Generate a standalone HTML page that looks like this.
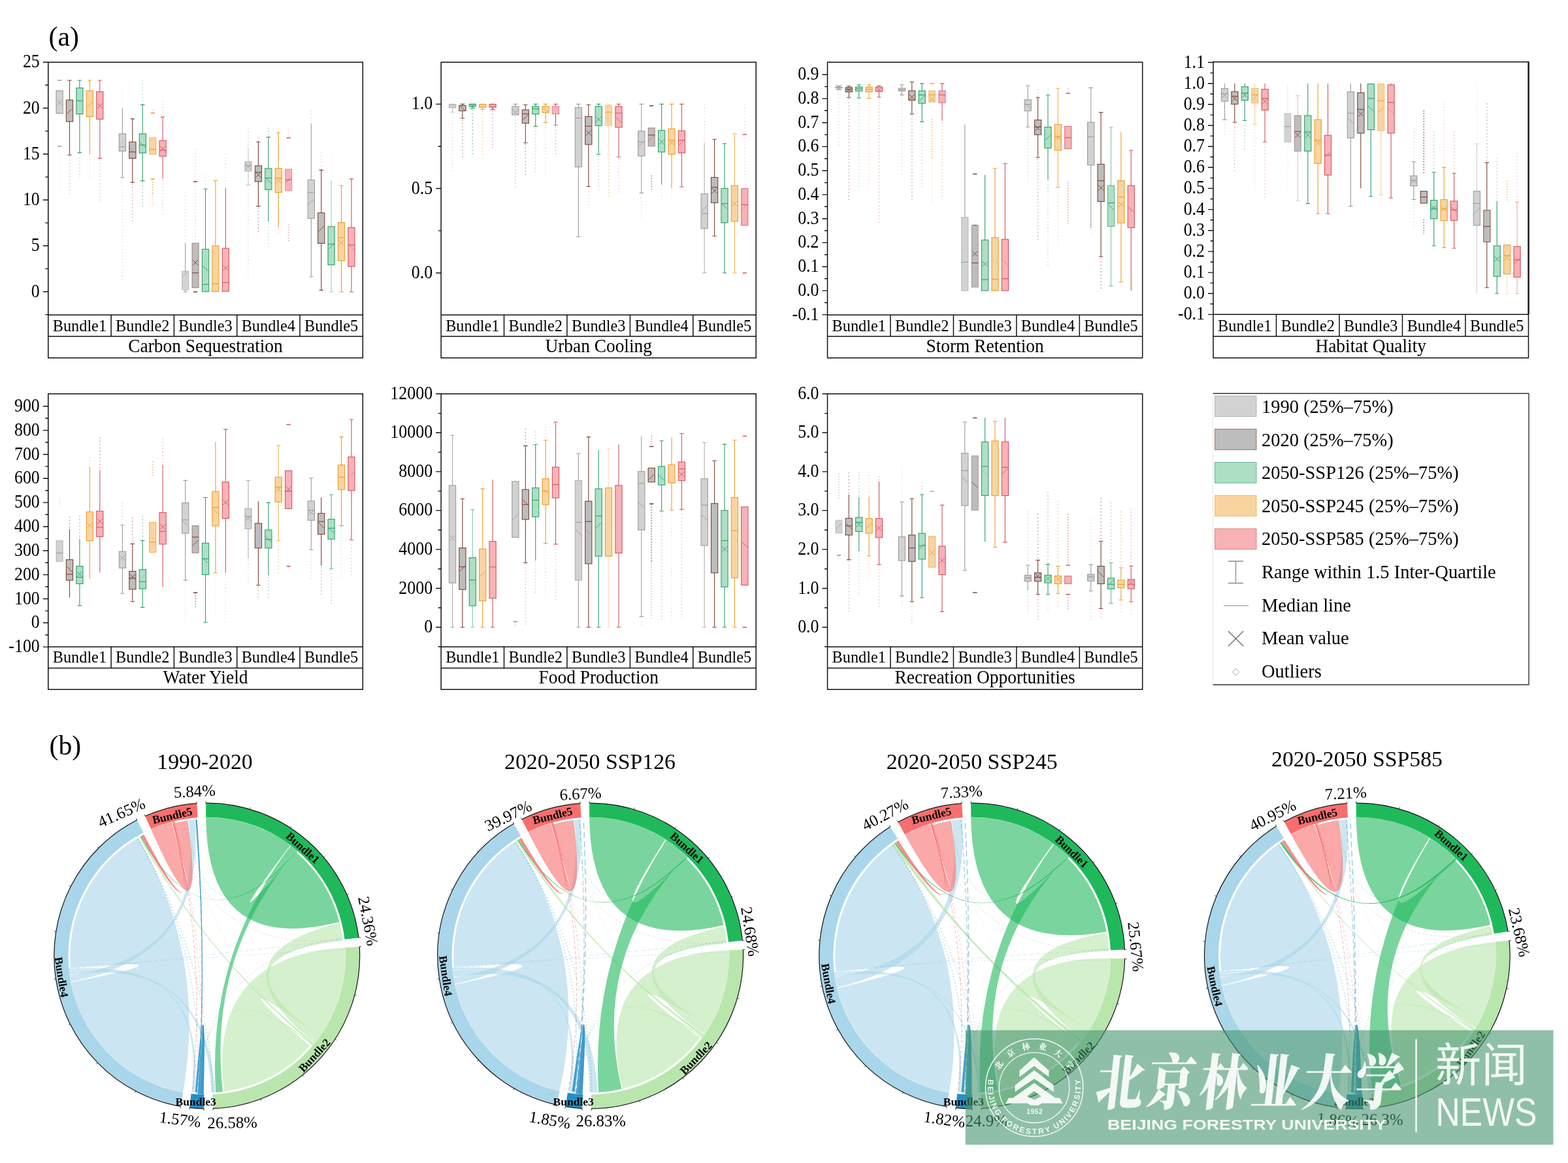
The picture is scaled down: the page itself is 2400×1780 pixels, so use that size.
<!DOCTYPE html>
<html lang="en"><head><meta charset="utf-8"><title>Figure</title>
<style>html,body{margin:0;padding:0;background:#fff}body{width:2400px;height:1780px;overflow:hidden}svg{display:block}text{font-family:'Liberation Serif','Noto Serif CJK SC',serif}</style></head>
<body>
<svg width="2400" height="1780" viewBox="0 0 2400 1780">
<rect width="2400" height="1780" fill="#fff"/>
<text x="74.5" y="69.5" font-size="41.8" text-anchor="start">(a)</text>
<g id="panel1">
<g stroke="#9c9c9c" stroke-width="1.1" fill="none"><path d="M91.1 225.7V290.1" stroke-dasharray="1.5 3.6" stroke-width="1.6" opacity="0.2"/><path d="M87.9 123H94.3" stroke-width="1.5"/><path d="M87.9 223.7H94.3" stroke-width="1.5"/><rect x="86" y="138.8" width="10.2" height="34.7" fill="#d2d2d2"/><path d="M87.1 161.1L95.1 153.1M87.1 153.1L95.1 161.1" stroke-width="0.9"/></g>
<g stroke="#7b4331" stroke-width="1.1" fill="none"><path d="M106.5 239.3V298.9" stroke-dasharray="1.5 3.6" stroke-width="1.6" opacity="0.3"/><path d="M106.5 123V153.1M103.3 123H109.7M106.5 186.1V237.3M103.3 237.3H109.7"/><rect x="101.4" y="153.1" width="10.2" height="33" fill="#bdbdbd"/><path d="M102.5 174.3L110.5 166.3" stroke-width="0.9"/></g>
<g stroke="#2f9e6e" stroke-width="1.1" fill="none"><path d="M121.9 235.6V274.7" stroke-dasharray="1.5 3.6" stroke-width="1.6" opacity="0.3"/><path d="M121.9 123V134.6M118.7 123H125.1M121.9 174.5V233.6M118.7 233.6H125.1"/><rect x="116.8" y="134.6" width="10.2" height="39.8" fill="#addfc4"/><path d="M116.8 154.2H127" stroke-width="1.1"/><path d="M117.9 152L125.9 160" stroke-width="0.9" opacity="0.3"/></g>
<g stroke="#eaa027" stroke-width="1.1" fill="none"><path d="M137.3 238.3V276.9" stroke-dasharray="1.5 3.6" stroke-width="1.6" opacity="0.3"/><path d="M137.3 123V139M134.2 123H140.5M137.3 178.6V236.3"/><rect x="132.2" y="139" width="10.2" height="39.6" fill="#f9d4a1"/><path d="M133.3 163.9L141.3 155.9" stroke-width="0.9"/></g>
<g stroke="#d25560" stroke-width="1.1" fill="none"><path d="M152.8 244.4V309.9" stroke-dasharray="1.5 3.6" stroke-width="1.6" opacity="0.3"/><path d="M152.8 123V140.4M149.6 123H155.9M152.8 182.4V242.4M149.6 242.4H155.9"/><rect x="147.7" y="140.4" width="10.2" height="42" fill="#f8b2b6"/><path d="M148.8 166.1L156.8 158.1M148.8 158.1L156.8 166.1" stroke-width="0.9"/></g>
<g stroke="#9c9c9c" stroke-width="1.1" fill="none"><path d="M187.4 138.4V165.4" stroke-dasharray="1.5 3.6" stroke-width="1.6" opacity="0.2"/><path d="M187.4 273.7V433.1" stroke-dasharray="1.5 3.6" stroke-width="1.6" opacity="0.3"/><path d="M187.4 165.4V204.8M187.4 231.2V271.7M184.2 271.7H190.6"/><rect x="182.3" y="204.8" width="10.2" height="26.4" fill="#d2d2d2"/><path d="M182.3 224.6H192.5" stroke-width="1.1"/><path d="M183.4 221.6L191.4 213.6" stroke-width="0.9" opacity="0.4"/></g>
<g stroke="#7b4331" stroke-width="1.1" fill="none"><path d="M202.8 281.1V338.5" stroke-dasharray="1.5 3.6" stroke-width="1.6" opacity="0.4"/><path d="M202.8 181.9V217.3M199.7 181.9H206M202.8 242.4V279.1M199.7 279.1H206"/><rect x="197.8" y="217.3" width="10.2" height="25.1" fill="#bdbdbd"/><path d="M197.8 232.5H207.9" stroke-width="1.1"/><path d="M198.8 226.8L206.8 234.8" stroke-width="0.9" opacity="0.3"/></g>
<g stroke="#2f9e6e" stroke-width="1.1" fill="none"><path d="M218.2 123V160.4" stroke-dasharray="1.5 3.6" stroke-width="1.6" opacity="0.3"/><path d="M218.2 278.9V316.5" stroke-dasharray="1.5 3.6" stroke-width="1.6" opacity="0.5"/><path d="M218.2 160.4V204.8M215.1 160.4H221.4M218.2 234.1V276.9M215.1 276.9H221.4"/><rect x="213.2" y="204.8" width="10.2" height="29.3" fill="#addfc4"/><path d="M213.2 222H223.3" stroke-width="1.1"/><path d="M214.2 217.5L222.2 225.5" stroke-width="0.9"/></g>
<g stroke="#eaa027" stroke-width="1.1" fill="none"><path d="M233.7 273.9V296.7" stroke-dasharray="1.5 2.6" stroke-width="1.7" opacity="0.8"/><path d="M233.7 296.7V316.5" stroke-dasharray="1.5 2.6" stroke-width="1.7" opacity="0.4"/><path d="M233.7 167.4V172.7" stroke-dasharray="1.5 2.6" stroke-width="1.7" opacity="0.5"/><path d="M230.5 173.1H236.8" stroke-width="1.5"/><path d="M230.5 273.9H236.8" stroke-width="1.5"/><rect x="228.6" y="210.7" width="10.2" height="25.5" fill="#f9d4a1" stroke-opacity="0.6"/><path d="M228.6 228.6H238.8" stroke-width="1.1"/></g>
<g stroke="#d25560" stroke-width="1.1" fill="none"><path d="M249.1 153.8V179.1" stroke-dasharray="1.5 3.6" stroke-width="1.6" opacity="0.3"/><path d="M249.1 275.6V331.9" stroke-dasharray="1.5 3.6" stroke-width="1.6" opacity="0.3"/><path d="M249.1 179.1V215.1M245.9 179.1H252.2M249.1 239.1V273.6"/><rect x="244" y="215.1" width="10.2" height="24" fill="#f8b2b6"/><path d="M244 229.9H254.2" stroke-width="1.1"/><path d="M245.1 231.7L253.1 223.7M245.1 223.7L253.1 231.7" stroke-width="0.9"/></g>
<g stroke="#9c9c9c" stroke-width="1.1" fill="none"><path d="M283.7 294.5V372.2" stroke-dasharray="1.5 3.6" stroke-width="1.6" opacity="0.3"/><path d="M283.7 372.2V415M283.7 443.6V446.7M280.5 446.7H286.9"/><rect x="278.6" y="415" width="10.2" height="28.6" fill="#d2d2d2" stroke-opacity="0.5"/><path d="M279.7 422.8L287.7 414.8" stroke-width="0.9"/></g>
<g stroke="#7b4331" stroke-width="1.1" fill="none"><path d="M299.1 228.6V372.2" stroke-dasharray="1.5 3.6" stroke-width="1.6" opacity="0.2"/><path d="M295.9 278H302.3" stroke-width="1.5"/><path d="M295.9 446.7H302.3" stroke-width="1.5"/><rect x="294" y="372.2" width="10.2" height="68.2" fill="#bdbdbd" stroke-opacity="0.5"/><path d="M294 417.7H304.2" stroke-width="1.1"/><path d="M295.1 405.9L303.1 397.9M295.1 397.9L303.1 405.9" stroke-width="0.9"/></g>
<g stroke="#2f9e6e" stroke-width="1.1" fill="none"><path d="M314.5 265.9V289.3" stroke-dasharray="1.5 3.6" stroke-width="1.6" opacity="0.2"/><path d="M314.5 289.3V381.4M311.3 289.3H317.7"/><rect x="309.4" y="381.4" width="10.2" height="64.9" fill="#addfc4"/><path d="M309.4 435.3H319.6" stroke-width="1.1"/><path d="M310.5 407.1L318.5 415.1" stroke-width="0.9"/></g>
<g stroke="#eaa027" stroke-width="1.1" fill="none"><path d="M329.9 265.9V276.5" stroke-dasharray="1.5 3.6" stroke-width="1.6" opacity="0.2"/><path d="M329.9 276.5V376.3M326.7 276.5H333.1"/><rect x="324.8" y="376.3" width="10.2" height="69.9" fill="#f9d4a1"/><path d="M324.8 434.2H335" stroke-width="1.1"/><path d="M325.9 406L333.9 414" stroke-width="0.9" opacity="0.4"/></g>
<g stroke="#d25560" stroke-width="1.1" fill="none"><path d="M345.3 235.2V287.9" stroke-dasharray="1.5 3.6" stroke-width="1.6" opacity="0.2"/><path d="M345.3 287.9V380.1"/><rect x="340.2" y="380.1" width="10.2" height="65.8" fill="#f8b2b6"/><path d="M340.2 432.6H350.4" stroke-width="1.1"/><path d="M341.3 414L349.3 406M341.3 406L349.3 414" stroke-width="0.9"/></g>
<g stroke="#9c9c9c" stroke-width="1.1" fill="none"><path d="M380 195.6V226.4" stroke-dasharray="1.5 3.6" stroke-width="1.6" opacity="0.4"/><path d="M380 285.1V426.5" stroke-dasharray="1.5 3.6" stroke-width="1.6" opacity="0.3"/><path d="M380 226.4V247.5M380 261.8V283.1M376.8 283.1H383.2" opacity="0.6"/><rect x="374.9" y="247.5" width="10.2" height="14.3" fill="#d2d2d2" stroke-opacity="0.7"/><path d="M374.9 253.8H385.1" stroke-width="1.1"/><path d="M376 258.5L384 250.5M376 250.5L384 258.5" stroke-width="0.9"/></g>
<g stroke="#7b4331" stroke-width="1.1" fill="none"><path d="M395.4 209.9V217.3" stroke-dasharray="1.5 3.6" stroke-width="1.6" opacity="0.4"/><path d="M395.4 317.6V356.1" stroke-dasharray="1.5 3.6" stroke-width="1.6" opacity="0.5"/><path d="M395.4 217.3V253.8M392.2 217.3H398.6M395.4 278V315.6M392.2 315.6H398.6"/><rect x="390.3" y="253.8" width="10.2" height="24.2" fill="#bdbdbd"/><path d="M390.3 263.7H400.6" stroke-width="1.1"/><path d="M391.4 271.7L399.4 263.7M391.4 263.7L399.4 271.7" stroke-width="0.9"/></g>
<g stroke="#2f9e6e" stroke-width="1.1" fill="none"><path d="M410.8 195.6V209.9" stroke-dasharray="1.5 3.6" stroke-width="1.6" opacity="0.4"/><path d="M410.8 341.6V378.1" stroke-dasharray="1.5 3.6" stroke-width="1.6" opacity="0.3"/><path d="M410.8 209.9V257.8M407.6 209.9H414M410.8 290.4V339.6"/><rect x="405.7" y="257.8" width="10.2" height="32.5" fill="#addfc4"/><path d="M405.7 272.5H415.9" stroke-width="1.1"/><path d="M406.8 272.5L414.8 280.5" stroke-width="0.9"/></g>
<g stroke="#eaa027" stroke-width="1.1" fill="none"><path d="M426.2 195.6V203.3" stroke-dasharray="1.5 3.6" stroke-width="1.6" opacity="0.3"/><path d="M426.2 350.4V359.4" stroke-dasharray="1.5 3.6" stroke-width="1.6" opacity="0.3"/><path d="M426.2 203.3V257.6M423 203.3H429.4M426.2 294.5V348.4"/><rect x="421.1" y="257.6" width="10.2" height="36.9" fill="#f9d4a1"/><path d="M421.1 272.5H431.3" stroke-width="1.1"/><path d="M422.2 280.5L430.2 272.5M422.2 272.5L430.2 280.5" stroke-width="0.9"/></g>
<g stroke="#d25560" stroke-width="1.1" fill="none"><path d="M441.6 342.9V371.5" stroke-dasharray="1.5 2.6" stroke-width="1.7" opacity="0.5"/><path d="M441.6 195.6V210.5" stroke-dasharray="1.5 2.6" stroke-width="1.7" opacity="0.3"/><path d="M438.4 211H444.8" stroke-width="1.5"/><rect x="436.5" y="258.9" width="10.2" height="32.8" fill="#f8b2b6" stroke-opacity="0.5"/><path d="M436.5 275.2H446.8" stroke-width="1.1"/><path d="M437.6 279.8L445.6 271.8" stroke-width="0.9"/></g>
<g stroke="#9c9c9c" stroke-width="1.1" fill="none"><path d="M476.3 169.2V189" stroke-dasharray="1.5 3.6" stroke-width="1.6" opacity="0.3"/><path d="M476.3 425.2V426.5" stroke-dasharray="1.5 3.6" stroke-width="1.6" opacity="0.4"/><path d="M476.3 189V275.4M476.3 334.3V423.2M473.1 423.2H479.5"/><rect x="471.2" y="275.4" width="10.2" height="58.9" fill="#d2d2d2"/><path d="M471.2 294.5H481.4" stroke-width="1.1"/><path d="M472.3 312.8L480.3 304.8" stroke-width="0.9"/></g>
<g stroke="#7b4331" stroke-width="1.1" fill="none"><path d="M491.7 233V260.4" stroke-dasharray="1.5 3.6" stroke-width="1.6" opacity="0.2"/><path d="M491.7 260.4V325.8M488.5 260.4H494.9M491.7 372.4V444.1M488.5 444.1H494.9"/><rect x="486.6" y="325.8" width="10.2" height="46.6" fill="#bdbdbd"/><path d="M487.7 354.2L495.7 346.2" stroke-width="0.9"/></g>
<g stroke="#2f9e6e" stroke-width="1.1" fill="none"><path d="M507.1 228.6V276.5" stroke-dasharray="1.5 3.6" stroke-width="1.6" opacity="0.1"/><path d="M507.1 276.5V346.9M507.1 405.4V446.7M503.9 446.7H510.3" opacity="0.5"/><rect x="502" y="346.9" width="10.2" height="58.5" fill="#addfc4"/><path d="M502 373.7H512.2" stroke-width="1.1"/><path d="M503.1 381L511.1 373" stroke-width="0.9"/></g>
<g stroke="#eaa027" stroke-width="1.1" fill="none"><path d="M522.5 284V340.7M519.3 284H525.8M522.5 399V446.7M519.3 446.7H525.8"/><rect x="517.4" y="340.7" width="10.2" height="58.3" fill="#f9d4a1"/><path d="M517.4 363.8H527.6" stroke-width="1.1"/><path d="M518.5 375.5L526.5 367.5M518.5 367.5L526.5 375.5" stroke-width="0.9"/></g>
<g stroke="#d25560" stroke-width="1.1" fill="none"><path d="M537.9 273.9V348.4M534.7 273.9H541.1M537.9 407.8V446.7M534.7 446.7H541.1"/><rect x="532.8" y="348.4" width="10.2" height="59.4" fill="#f8b2b6"/><path d="M532.8 375H543" stroke-width="1.1"/><path d="M533.9 374.1L541.9 382.1" stroke-width="0.9" opacity="0.5"/></g>
<g>
<path d="M73.8 95.2H555.3V547.7H73.8Z M73.8 481.9H555.3 M73.8 514.7H555.3" fill="none" stroke="#111" stroke-width="1.5"/>
<path d="M170.1 481.9V514.7M266.4 481.9V514.7M362.7 481.9V514.7M459 481.9V514.7" stroke="#111" stroke-width="1.5" fill="none"/>
<path d="M65.8 95.2H73.8M65.8 165.5H73.8M65.8 235.7H73.8M65.8 306H73.8M65.8 376.2H73.8M65.8 446.5H73.8M69.3 130.3H73.8M69.3 200.6H73.8M69.3 270.9H73.8M69.3 341.1H73.8M69.3 411.4H73.8M69.3 481.6H73.8" stroke="#111" stroke-width="1.4" fill="none"/>
<text transform="translate(60.8 103.2) scale(1 1.1)" font-size="25.9" text-anchor="end">25</text>
<text transform="translate(60.8 173.5) scale(1 1.1)" font-size="25.9" text-anchor="end">20</text>
<text transform="translate(60.8 243.7) scale(1 1.1)" font-size="25.9" text-anchor="end">15</text>
<text transform="translate(60.8 314) scale(1 1.1)" font-size="25.9" text-anchor="end">10</text>
<text transform="translate(60.8 384.2) scale(1 1.1)" font-size="25.9" text-anchor="end">5</text>
<text transform="translate(60.8 454.5) scale(1 1.1)" font-size="25.9" text-anchor="end">0</text>
<text transform="translate(121.9 506.7) scale(1 1.03)" font-size="24.3" text-anchor="middle">Bundle1</text>
<text transform="translate(218.2 506.7) scale(1 1.03)" font-size="24.3" text-anchor="middle">Bundle2</text>
<text transform="translate(314.5 506.7) scale(1 1.03)" font-size="24.3" text-anchor="middle">Bundle3</text>
<text transform="translate(410.8 506.7) scale(1 1.03)" font-size="24.3" text-anchor="middle">Bundle4</text>
<text transform="translate(507.1 506.7) scale(1 1.03)" font-size="24.3" text-anchor="middle">Bundle5</text>
<text transform="translate(314.5 538.5) scale(1 1.05)" font-size="27.4" text-anchor="middle">Carbon Sequestration</text>
</g>
</g>
<g id="panel2">
<g stroke="#9c9c9c" stroke-width="1.1" fill="none"><path d="M692.5 173.6V263.1" stroke-dasharray="1.5 3.6" stroke-width="1.6" opacity="0.3"/><path d="M692.5 159.4V160M689.3 159.4H695.7M692.5 164.8V171.6M689.3 171.6H695.7" opacity="0.6"/><rect x="687.4" y="160" width="10.2" height="4.8" fill="#d2d2d2" stroke-opacity="0.8"/></g>
<g stroke="#7b4331" stroke-width="1.1" fill="none"><path d="M707.9 183V244.3" stroke-dasharray="1.5 3.6" stroke-width="1.6" opacity="0.5"/><path d="M707.9 159.4V161.6M704.7 159.4H711.1M707.9 169.7V181M704.7 181H711.1"/><rect x="702.8" y="161.6" width="10.2" height="8.1" fill="#bdbdbd"/><path d="M703.9 161.6L711.9 169.6" stroke-width="0.9"/></g>
<g stroke="#2f9e6e" stroke-width="1.1" fill="none"><path d="M723.3 168.2V236.2" stroke-dasharray="1.5 3.6" stroke-width="1.6" opacity="0.6"/><path d="M723.3 159.4V159.7M720.1 159.4H726.5M723.3 162.9V166.2M720.1 166.2H726.5"/><rect x="718.2" y="159.7" width="10.2" height="3.2" fill="#addfc4"/><path d="M719.3 166.1L727.3 158.1M719.3 158.1L727.3 166.1" stroke-width="0.9"/></g>
<g stroke="#eaa027" stroke-width="1.1" fill="none"><path d="M738.7 169.5V241.6" stroke-dasharray="1.5 3.6" stroke-width="1.6" opacity="0.5"/><path d="M738.7 159.4V159.7M735.5 159.4H741.9M738.7 164.3V167.5M735.5 167.5H741.9"/><rect x="733.6" y="159.7" width="10.2" height="4.6" fill="#f9d4a1"/></g>
<g stroke="#d25560" stroke-width="1.1" fill="none"><path d="M754.1 169.5V230.8" stroke-dasharray="1.5 3.6" stroke-width="1.6" opacity="0.5"/><path d="M754.1 159.4V159.7M750.9 159.4H757.3M754.1 164V167.5M750.9 167.5H757.3"/><rect x="749" y="159.7" width="10.2" height="4.3" fill="#f8b2b6"/><path d="M750.1 169.6L758.1 161.6M750.1 161.6L758.1 169.6" stroke-width="0.9"/></g>
<g stroke="#9c9c9c" stroke-width="1.1" fill="none"><path d="M788.9 177.9V290.1" stroke-dasharray="1.5 3.6" stroke-width="1.6" opacity="0.5"/><path d="M788.9 159.4V162.9M785.7 159.4H792.1"/><rect x="783.8" y="162.9" width="10.2" height="12.9" fill="#d2d2d2"/><path d="M784.9 175.6L792.9 167.6M784.9 167.6L792.9 175.6" stroke-width="0.9"/></g>
<g stroke="#7b4331" stroke-width="1.1" fill="none"><path d="M804.3 220.7V268.5" stroke-dasharray="1.5 3.6" stroke-width="1.6" opacity="0.5"/><path d="M804.3 160.3V168.1M801.1 160.3H807.5M804.3 188.5V218.7M801.1 218.7H807.5"/><rect x="799.2" y="168.1" width="10.2" height="20.5" fill="#bdbdbd"/><path d="M799.2 174.3H809.4" stroke-width="1.1"/><path d="M800.3 183.6L808.3 175.6" stroke-width="0.9"/></g>
<g stroke="#2f9e6e" stroke-width="1.1" fill="none"><path d="M819.7 195.4V265.8" stroke-dasharray="1.5 3.6" stroke-width="1.6" opacity="0.3"/><path d="M819.7 159.4V162.9M816.5 159.4H822.9M819.7 174.5V193.4M816.5 193.4H822.9"/><rect x="814.6" y="162.9" width="10.2" height="11.6" fill="#addfc4"/><path d="M814.6 166.7H824.8" stroke-width="1.1"/></g>
<g stroke="#eaa027" stroke-width="1.1" fill="none"><path d="M835.1 189.7V268.5" stroke-dasharray="1.5 3.6" stroke-width="1.6" opacity="0.3"/><path d="M835.1 159.4V162.9M831.9 159.4H838.3M835.1 172.4V187.7M831.9 187.7H838.3"/><rect x="830" y="162.9" width="10.2" height="9.4" fill="#f9d4a1"/><path d="M831.1 163.5L839.1 171.5" stroke-width="0.9"/></g>
<g stroke="#d25560" stroke-width="1.1" fill="none"><path d="M850.5 193.8V236.2" stroke-dasharray="1.5 3.6" stroke-width="1.6" opacity="0.5"/><path d="M850.5 159.4V162.9M847.3 159.4H853.7M850.5 174.5V191.8M847.3 191.8H853.7"/><rect x="845.4" y="162.9" width="10.2" height="11.6" fill="#f8b2b6" stroke-opacity="0.6"/></g>
<g stroke="#9c9c9c" stroke-width="1.1" fill="none"><path d="M885.4 159.4V164.6M882.2 159.4H888.6M885.4 255.3V362.2M882.2 362.2H888.6"/><rect x="880.3" y="164.6" width="10.2" height="90.8" fill="#d2d2d2"/><path d="M880.3 180.7H890.5" stroke-width="1.1"/><path d="M881.4 213.3L889.4 221.3" stroke-width="0.9" opacity="0.2"/></g>
<g stroke="#7b4331" stroke-width="1.1" fill="none"><path d="M900.8 287.5V317" stroke-dasharray="1.5 3.6" stroke-width="1.6" opacity="0.2"/><path d="M900.8 160.3V178.3M897.6 160.3H904M900.8 221.1V285.5M897.6 285.5H904"/><rect x="895.7" y="178.3" width="10.2" height="42.8" fill="#bdbdbd"/><path d="M895.7 193.1H905.9" stroke-width="1.1"/><path d="M896.8 207.3L904.8 199.3M896.8 199.3L904.8 207.3" stroke-width="0.9"/></g>
<g stroke="#2f9e6e" stroke-width="1.1" fill="none"><path d="M916.2 238.2V290.1" stroke-dasharray="1.5 3.6" stroke-width="1.6" opacity="0.3"/><path d="M916.2 159.4V162.9M913 159.4H919.4M916.2 192.3V236.2M913 236.2H919.4"/><rect x="911.1" y="162.9" width="10.2" height="29.4" fill="#addfc4"/><path d="M912.2 186.6L920.2 178.6M912.2 178.6L920.2 186.6" stroke-width="0.9"/></g>
<g stroke="#eaa027" stroke-width="1.1" fill="none"><path d="M931.6 238.2V302.2" stroke-dasharray="1.5 3.6" stroke-width="1.6" opacity="0.5"/><path d="M931.6 159.4V160.8M928.4 159.4H934.8M931.6 192.3V236.2M928.4 236.2H934.8" opacity="0.3"/><rect x="926.5" y="160.8" width="10.2" height="31.5" fill="#f9d4a1" stroke-opacity="0.3"/><path d="M926.5 171.8H936.7" stroke-width="1.1"/></g>
<g stroke="#d25560" stroke-width="1.1" fill="none"><path d="M947 242.2V295.4" stroke-dasharray="1.5 3.6" stroke-width="1.6" opacity="0.3"/><path d="M947 159.4V162.9M943.8 159.4H950.2M947 195V240.2M943.8 240.2H950.2"/><rect x="941.9" y="162.9" width="10.2" height="32" fill="#f8b2b6"/><path d="M941.9 173.2H952.1" stroke-width="1.1"/><path d="M943 179.7L951 187.7" stroke-width="0.9"/></g>
<g stroke="#9c9c9c" stroke-width="1.1" fill="none"><path d="M981.8 297.4V338.5" stroke-dasharray="1.5 3.6" stroke-width="1.6" opacity="0.3"/><path d="M981.8 159.4V200.6M978.6 159.4H985M981.8 238.9V295.4M978.6 295.4H985"/><rect x="976.7" y="200.6" width="10.2" height="38.2" fill="#d2d2d2"/><path d="M976.7 217.3H986.9" stroke-width="1.1"/><path d="M977.8 224L985.8 216" stroke-width="0.9"/></g>
<g stroke="#7b4331" stroke-width="1.1" fill="none"><path d="M997.2 268.5V290.1" stroke-dasharray="1.5 2.6" stroke-width="1.7" opacity="0.6"/><path d="M994 161.9H1000.4" stroke-width="1.5"/><rect x="992.1" y="195.8" width="10.2" height="28" fill="#bdbdbd" stroke-opacity="0.5"/><path d="M992.1 206.6H1002.3" stroke-width="1.1"/><path d="M993.2 215.4L1001.2 207.4" stroke-width="0.9" opacity="0.5"/></g>
<g stroke="#2f9e6e" stroke-width="1.1" fill="none"><path d="M1012.6 284.5V308.9" stroke-dasharray="1.5 3.6" stroke-width="1.6" opacity="0.2"/><path d="M1012.6 159.4V199.6M1009.4 159.4H1015.8M1012.6 232.7V282.5"/><rect x="1007.5" y="199.6" width="10.2" height="33.1" fill="#addfc4"/><path d="M1008.6 221.3L1016.6 213.3M1008.6 213.3L1016.6 221.3" stroke-width="0.9"/></g>
<g stroke="#eaa027" stroke-width="1.1" fill="none"><path d="M1028 290.2V306.2" stroke-dasharray="1.5 3.6" stroke-width="1.6" opacity="0.2"/><path d="M1028 159.4V197.1M1024.8 159.4H1031.2M1028 236.2V288.2"/><rect x="1022.9" y="197.1" width="10.2" height="39" fill="#f9d4a1"/><path d="M1022.9 214.7H1033.1" stroke-width="1.1"/><path d="M1024 222.2L1032 214.2M1024 214.2L1032 222.2" stroke-width="0.9"/></g>
<g stroke="#d25560" stroke-width="1.1" fill="none"><path d="M1043.4 288V290.1" stroke-dasharray="1.5 3.6" stroke-width="1.6" opacity="0.3"/><path d="M1043.4 159.4V200.1M1040.2 159.4H1046.6M1043.4 234V286M1040.2 286H1046.6"/><rect x="1038.3" y="200.1" width="10.2" height="33.9" fill="#f8b2b6"/><path d="M1038.3 214.7H1048.5" stroke-width="1.1"/><path d="M1039.4 221.9L1047.4 213.9" stroke-width="0.9"/></g>
<g stroke="#9c9c9c" stroke-width="1.1" fill="none"><path d="M1078.2 159.4V218.7" stroke-dasharray="1.5 3.6" stroke-width="1.6" opacity="0.3"/><path d="M1078.2 218.7V296.5M1078.2 349.8V417.7M1075 417.7H1081.4" opacity="0.8"/><rect x="1073.1" y="296.5" width="10.2" height="53.3" fill="#d2d2d2"/><path d="M1073.1 326.7H1083.3" stroke-width="1.1"/><path d="M1074.2 323.1L1082.2 315.1" stroke-width="0.9"/></g>
<g stroke="#7b4331" stroke-width="1.1" fill="none"><path d="M1093.6 213.3V271.5M1090.4 213.3H1096.8M1093.6 310.3V361.2M1090.4 361.2H1096.8"/><rect x="1088.5" y="271.5" width="10.2" height="38.8" fill="#bdbdbd"/><path d="M1088.5 286.6H1098.7" stroke-width="1.1"/><path d="M1089.6 295.9L1097.6 287.9M1089.6 287.9L1097.6 295.9" stroke-width="0.9"/></g>
<g stroke="#2f9e6e" stroke-width="1.1" fill="none"><path d="M1109 219.8V288.4M1105.8 219.8H1112.2M1109 341V417.7M1105.8 417.7H1112.2"/><rect x="1103.9" y="288.4" width="10.2" height="52.5" fill="#addfc4"/><path d="M1103.9 311.6H1114.1" stroke-width="1.1"/><path d="M1105 311.6L1113 319.6" stroke-width="0.9"/></g>
<g stroke="#eaa027" stroke-width="1.1" fill="none"><path d="M1124.4 204.7V284.1M1121.2 204.7H1127.6M1124.4 338.8V417.7M1121.2 417.7H1127.6" opacity="0.8"/><rect x="1119.3" y="284.1" width="10.2" height="54.7" fill="#f9d4a1"/><path d="M1120.4 315.6L1128.4 307.6M1120.4 307.6L1128.4 315.6" stroke-width="0.9"/></g>
<g stroke="#d25560" stroke-width="1.1" fill="none"><path d="M1139.8 159.4V288.7" stroke-dasharray="1.5 3.6" stroke-width="1.6" opacity="0.2"/><path d="M1136.6 205.8H1143" stroke-width="1.5"/><path d="M1136.6 417.7H1143" stroke-width="1.5"/><rect x="1134.7" y="288.7" width="10.2" height="56.3" fill="#f8b2b6" stroke-opacity="0.8"/><path d="M1134.7 313.2H1144.9" stroke-width="1.1"/><path d="M1135.8 321L1143.8 313" stroke-width="0.9" opacity="0.3"/></g>
<g>
<path d="M675.1 95.2H1157.2V547.7H675.1Z M675.1 481.9H1157.2 M675.1 514.7H1157.2" fill="none" stroke="#111" stroke-width="1.5"/>
<path d="M771.5 481.9V514.7M867.9 481.9V514.7M964.4 481.9V514.7M1060.8 481.9V514.7" stroke="#111" stroke-width="1.5" fill="none"/>
<path d="M667.1 159.4H675.1M667.1 288.5H675.1M667.1 417.7H675.1M670.6 224H675.1M670.6 353.1H675.1" stroke="#111" stroke-width="1.4" fill="none"/>
<text transform="translate(662.1 167.4) scale(1 1.1)" font-size="25.9" text-anchor="end">1.0</text>
<text transform="translate(662.1 296.5) scale(1 1.1)" font-size="25.9" text-anchor="end">0.5</text>
<text transform="translate(662.1 425.7) scale(1 1.1)" font-size="25.9" text-anchor="end">0.0</text>
<text transform="translate(723.3 506.7) scale(1 1.03)" font-size="24.3" text-anchor="middle">Bundle1</text>
<text transform="translate(819.7 506.7) scale(1 1.03)" font-size="24.3" text-anchor="middle">Bundle2</text>
<text transform="translate(916.2 506.7) scale(1 1.03)" font-size="24.3" text-anchor="middle">Bundle3</text>
<text transform="translate(1012.6 506.7) scale(1 1.03)" font-size="24.3" text-anchor="middle">Bundle4</text>
<text transform="translate(1109 506.7) scale(1 1.03)" font-size="24.3" text-anchor="middle">Bundle5</text>
<text transform="translate(916.2 538.5) scale(1 1.05)" font-size="27.4" text-anchor="middle">Urban Cooling</text>
</g>
</g>
<g id="panel3">
<g stroke="#9c9c9c" stroke-width="1.1" fill="none"><path d="M1283.9 139.4V225.4" stroke-dasharray="1.5 3.6" stroke-width="1.6" opacity="0.3"/><path d="M1283.9 131.2V133.1M1280.7 131.2H1287.1M1283.9 134.7V137.4M1280.7 137.4H1287.1"/><rect x="1278.8" y="133.1" width="10.2" height="1.6" fill="#d2d2d2"/><path d="M1279.9 137.9L1287.9 129.9M1279.9 129.9L1287.9 137.9" stroke-width="0.9"/></g>
<g stroke="#7b4331" stroke-width="1.1" fill="none"><path d="M1299.3 151.2V308.9" stroke-dasharray="1.5 3.6" stroke-width="1.6" opacity="0.4"/><path d="M1299.3 131.7V133.9M1296.1 131.7H1302.5M1299.3 140.6V149.2M1296.1 149.2H1302.5"/><rect x="1294.2" y="133.9" width="10.2" height="6.7" fill="#bdbdbd"/><path d="M1294.2 137.1H1304.4" stroke-width="1.1"/><path d="M1295.3 141.4L1303.3 133.4M1295.3 133.4L1303.3 141.4" stroke-width="0.9"/></g>
<g stroke="#2f9e6e" stroke-width="1.1" fill="none"><path d="M1314.7 152V290.1" stroke-dasharray="1.5 3.6" stroke-width="1.6" opacity="0.3"/><path d="M1314.7 129.8V133.1M1311.5 129.8H1317.9M1314.7 139.2V150M1311.5 150H1317.9"/><rect x="1309.6" y="133.1" width="10.2" height="6.2" fill="#addfc4"/><path d="M1309.6 136H1319.8" stroke-width="1.1"/></g>
<g stroke="#eaa027" stroke-width="1.1" fill="none"><path d="M1330.1 152.8V290.1" stroke-dasharray="1.5 3.6" stroke-width="1.6" opacity="0.3"/><path d="M1330.1 129.8V133.1M1326.9 129.8H1333.3M1330.1 140.6V150.8M1326.9 150.8H1333.3"/><rect x="1325" y="133.1" width="10.2" height="7.5" fill="#f9d4a1"/><path d="M1325 136.6H1335.2" stroke-width="1.1"/></g>
<g stroke="#d25560" stroke-width="1.1" fill="none"><path d="M1345.5 150.7V343.9" stroke-dasharray="1.5 3.6" stroke-width="1.6" opacity="0.4"/><path d="M1345.5 131.2V133.1M1342.3 131.2H1348.7M1345.5 139.8V148.7M1342.3 148.7H1348.7"/><rect x="1340.4" y="133.1" width="10.2" height="6.7" fill="#f8b2b6"/><path d="M1341.5 141.4L1349.5 133.4M1341.5 133.4L1349.5 141.4" stroke-width="0.9"/></g>
<g stroke="#9c9c9c" stroke-width="1.1" fill="none"><path d="M1380.4 123.1V129.8" stroke-dasharray="1.5 3.6" stroke-width="1.6" opacity="0.3"/><path d="M1380.4 147.4V268.5" stroke-dasharray="1.5 3.6" stroke-width="1.6" opacity="0.3"/><path d="M1380.4 129.8V135.2M1377.2 129.8H1383.6M1380.4 139.2V145.4M1377.2 145.4H1383.6"/><rect x="1375.3" y="135.2" width="10.2" height="4" fill="#d2d2d2"/><path d="M1375.3 137.4H1385.5" stroke-width="1.1"/></g>
<g stroke="#7b4331" stroke-width="1.1" fill="none"><path d="M1395.8 176.5V308.9" stroke-dasharray="1.5 3.6" stroke-width="1.6" opacity="0.4"/><path d="M1395.8 125.2V139M1392.6 125.2H1399M1395.8 153.3V174.5M1392.6 174.5H1399"/><rect x="1390.7" y="139" width="10.2" height="14.3" fill="#bdbdbd"/><path d="M1391.8 152.7L1399.8 144.7M1391.8 144.7L1399.8 152.7" stroke-width="0.9"/></g>
<g stroke="#2f9e6e" stroke-width="1.1" fill="none"><path d="M1411.2 188.4V290.1" stroke-dasharray="1.5 3.6" stroke-width="1.6" opacity="0.3"/><path d="M1411.2 127.9V139M1408 127.9H1414.4M1411.2 158.1V186.4M1408 186.4H1414.4"/><rect x="1406.1" y="139" width="10.2" height="19.1" fill="#addfc4"/><path d="M1406.1 145.4H1416.3" stroke-width="1.1"/><path d="M1407.2 154.6L1415.2 146.6" stroke-width="0.9"/></g>
<g stroke="#eaa027" stroke-width="1.1" fill="none"><path d="M1426.6 182.3V241.6" stroke-dasharray="1.5 2.6" stroke-width="1.7" opacity="0.7"/><path d="M1426.6 241.6V308.9" stroke-dasharray="1.5 2.6" stroke-width="1.7" opacity="0.3"/><path d="M1423.4 127.9H1429.8" stroke-width="1.5"/><rect x="1421.5" y="139" width="10.2" height="17.2" fill="#f9d4a1" stroke-opacity="0.5"/><path d="M1421.5 145.2H1431.7" stroke-width="1.1"/><path d="M1422.6 155.4L1430.6 147.4M1422.6 147.4L1430.6 155.4" stroke-width="0.9"/></g>
<g stroke="#d25560" stroke-width="1.1" fill="none"><path d="M1442 187V303.5" stroke-dasharray="1.5 3.6" stroke-width="1.6" opacity="0.3"/><path d="M1442 127.9V139M1438.8 127.9H1445.2M1442 157.3V185"/><rect x="1436.9" y="139" width="10.2" height="18.3" fill="#f8b2b6" stroke-opacity="0.7"/><path d="M1436.9 145.2H1447.1" stroke-width="1.1"/></g>
<g stroke="#9c9c9c" stroke-width="1.1" fill="none"><path d="M1476.8 190.4V332.6"/><rect x="1471.7" y="332.6" width="10.2" height="112.3" fill="#d2d2d2" stroke-opacity="0.6"/><path d="M1471.7 401.3H1481.9" stroke-width="1.1"/><path d="M1472.8 383.5L1480.8 375.5" stroke-width="0.9" opacity="0.3"/></g>
<g stroke="#7b4331" stroke-width="1.1" fill="none"><path d="M1489 266.4H1495.4" stroke-width="1.5"/><path d="M1489 344.7H1495.4" stroke-width="1.5"/><rect x="1487.1" y="344.7" width="10.2" height="94.8" fill="#bdbdbd" stroke-opacity="0.4"/><path d="M1487.1 402.4H1497.3" stroke-width="1.1"/><path d="M1488.2 392.4L1496.2 384.4M1488.2 384.4L1496.2 392.4" stroke-width="0.9"/></g>
<g stroke="#2f9e6e" stroke-width="1.1" fill="none"><path d="M1507.6 267.7V367.3"/><rect x="1502.5" y="367.3" width="10.2" height="77.6" fill="#addfc4"/><path d="M1502.5 427.9H1512.7" stroke-width="1.1"/><path d="M1503.6 408L1511.6 400M1503.6 400L1511.6 408" stroke-width="0.9"/></g>
<g stroke="#eaa027" stroke-width="1.1" fill="none"><path d="M1523 257.7V363.6M1519.8 257.7H1526.2"/><rect x="1517.9" y="363.6" width="10.2" height="81.3" fill="#f9d4a1"/><path d="M1517.9 427.4H1528.1" stroke-width="1.1"/><path d="M1519 396.5L1527 404.5" stroke-width="0.9" opacity="0.3"/></g>
<g stroke="#d25560" stroke-width="1.1" fill="none"><path d="M1538.4 250.2V366.3M1535.2 250.2H1541.6"/><rect x="1533.3" y="366.3" width="10.2" height="78.6" fill="#f8b2b6"/><path d="M1533.3 426.6H1543.5" stroke-width="1.1"/><path d="M1534.4 397.8L1542.4 405.8" stroke-width="0.9" opacity="0.5"/></g>
<g stroke="#9c9c9c" stroke-width="1.1" fill="none"><path d="M1573.2 196.5V279.3" stroke-dasharray="1.5 3.6" stroke-width="1.6" opacity="0.3"/><path d="M1573.2 131.2V152.7M1570 131.2H1576.4M1573.2 169.7V194.5M1570 194.5H1576.4"/><rect x="1568.1" y="152.7" width="10.2" height="17" fill="#d2d2d2"/><path d="M1568.1 160H1578.3" stroke-width="1.1"/><path d="M1569.2 158.1L1577.2 166.1" stroke-width="0.9"/></g>
<g stroke="#7b4331" stroke-width="1.1" fill="none"><path d="M1588.6 136.6V149.2" stroke-dasharray="1.5 3.6" stroke-width="1.6" opacity="0.3"/><path d="M1588.6 243V370.8" stroke-dasharray="1.5 3.6" stroke-width="1.6" opacity="0.4"/><path d="M1588.6 149.2V183.7M1585.4 149.2H1591.8M1588.6 206V241M1585.4 241H1591.8"/><rect x="1583.5" y="183.7" width="10.2" height="22.4" fill="#bdbdbd"/><path d="M1583.5 194.5H1593.7" stroke-width="1.1"/><path d="M1584.6 199.8L1592.6 191.8M1584.6 191.8L1592.6 199.8" stroke-width="0.9"/></g>
<g stroke="#2f9e6e" stroke-width="1.1" fill="none"><path d="M1604 135.2V145.2" stroke-dasharray="1.5 3.6" stroke-width="1.6" opacity="0.3"/><path d="M1604 277.2V408.5" stroke-dasharray="1.5 3.6" stroke-width="1.6" opacity="0.3"/><path d="M1604 145.2V194.5M1600.8 145.2H1607.2M1604 226.5V275.2"/><rect x="1598.9" y="194.5" width="10.2" height="32" fill="#addfc4"/><path d="M1600 214.6L1608 206.6" stroke-width="0.9"/></g>
<g stroke="#eaa027" stroke-width="1.1" fill="none"><path d="M1619.4 288.6V376.2" stroke-dasharray="1.5 3.6" stroke-width="1.6" opacity="0.3"/><path d="M1619.4 135.2V190.4M1616.2 135.2H1622.6M1619.4 230V286.6M1616.2 286.6H1622.6" opacity="0.8"/><rect x="1614.3" y="190.4" width="10.2" height="39.6" fill="#f9d4a1"/><path d="M1614.3 209.3H1624.5" stroke-width="1.1"/><path d="M1615.4 214.6L1623.4 206.6M1615.4 206.6L1623.4 214.6" stroke-width="0.9"/></g>
<g stroke="#d25560" stroke-width="1.1" fill="none"><path d="M1634.8 279.3V343.9" stroke-dasharray="1.5 2.6" stroke-width="1.7" opacity="0.5"/><path d="M1634.8 135.2V142.2" stroke-dasharray="1.5 2.6" stroke-width="1.7" opacity="0.4"/><path d="M1631.6 142.7H1638" stroke-width="1.5"/><rect x="1629.7" y="193.4" width="10.2" height="34.2" fill="#f8b2b6" stroke-opacity="0.8"/><path d="M1629.7 210.6H1639.9" stroke-width="1.1"/></g>
<g stroke="#9c9c9c" stroke-width="1.1" fill="none"><path d="M1669.7 351.3V360.1" stroke-dasharray="1.5 3.6" stroke-width="1.6" opacity="0.3"/><path d="M1669.7 134.4V187.2M1666.5 134.4H1672.9M1669.7 252.6V349.3"/><rect x="1664.6" y="187.2" width="10.2" height="65.4" fill="#d2d2d2"/><path d="M1664.6 209.5H1674.8" stroke-width="1.1"/><path d="M1665.7 222.8L1673.7 230.8" stroke-width="0.9" opacity="0.3"/></g>
<g stroke="#7b4331" stroke-width="1.1" fill="none"><path d="M1685.1 394.7V443.6" stroke-dasharray="1.5 3.6" stroke-width="1.6" opacity="0.5"/><path d="M1685.1 172.1V251.3M1681.9 172.1H1688.3M1685.1 308.4V392.7M1681.9 392.7H1688.3"/><rect x="1680" y="251.3" width="10.2" height="57.1" fill="#bdbdbd"/><path d="M1680 276.6H1690.2" stroke-width="1.1"/><path d="M1681.1 291.4L1689.1 283.4M1681.1 283.4L1689.1 291.4" stroke-width="0.9"/></g>
<g stroke="#2f9e6e" stroke-width="1.1" fill="none"><path d="M1700.5 194.7V283.9M1697.3 194.7H1703.7M1700.5 346.3V437.9M1697.3 437.9H1703.7" opacity="0.6"/><rect x="1695.4" y="283.9" width="10.2" height="62.5" fill="#addfc4" stroke-opacity="0.7"/><path d="M1695.4 310.5H1705.6" stroke-width="1.1"/><path d="M1696.5 313L1704.5 321" stroke-width="0.9"/></g>
<g stroke="#eaa027" stroke-width="1.1" fill="none"><path d="M1715.9 202V276.6M1715.9 341.2V431.7M1712.7 431.7H1719.1"/><rect x="1710.8" y="276.6" width="10.2" height="64.6" fill="#f9d4a1"/><path d="M1710.8 301.6H1721" stroke-width="1.1"/><path d="M1711.9 316.9L1719.9 308.9M1711.9 308.9L1719.9 316.9" stroke-width="0.9"/></g>
<g stroke="#d25560" stroke-width="1.1" fill="none"><path d="M1731.3 230V284.1M1728.1 230H1734.5M1731.3 348.5V444.9"/><rect x="1726.2" y="284.1" width="10.2" height="64.4" fill="#f8b2b6"/><path d="M1727.3 317L1735.3 325" stroke-width="0.9"/></g>
<g>
<path d="M1266.5 95.2H1748.7V547.7H1266.5Z M1266.5 481.9H1748.7 M1266.5 514.7H1748.7" fill="none" stroke="#111" stroke-width="1.5"/>
<path d="M1362.9 481.9V514.7M1459.4 481.9V514.7M1555.8 481.9V514.7M1652.3 481.9V514.7" stroke="#111" stroke-width="1.5" fill="none"/>
<path d="M1258.5 114.2H1266.5M1258.5 150.9H1266.5M1258.5 187.7H1266.5M1258.5 224.4H1266.5M1258.5 261.2H1266.5M1258.5 297.9H1266.5M1258.5 334.7H1266.5M1258.5 371.4H1266.5M1258.5 408.2H1266.5M1258.5 444.9H1266.5M1258.5 481.6H1266.5M1262 132.6H1266.5M1262 169.3H1266.5M1262 206.1H1266.5M1262 242.8H1266.5M1262 279.6H1266.5M1262 316.3H1266.5M1262 353H1266.5M1262 389.8H1266.5M1262 426.5H1266.5M1262 463.3H1266.5" stroke="#111" stroke-width="1.4" fill="none"/>
<text transform="translate(1253.5 122.2) scale(1 1.1)" font-size="25.9" text-anchor="end">0.9</text>
<text transform="translate(1253.5 158.9) scale(1 1.1)" font-size="25.9" text-anchor="end">0.8</text>
<text transform="translate(1253.5 195.7) scale(1 1.1)" font-size="25.9" text-anchor="end">0.7</text>
<text transform="translate(1253.5 232.4) scale(1 1.1)" font-size="25.9" text-anchor="end">0.6</text>
<text transform="translate(1253.5 269.2) scale(1 1.1)" font-size="25.9" text-anchor="end">0.5</text>
<text transform="translate(1253.5 305.9) scale(1 1.1)" font-size="25.9" text-anchor="end">0.4</text>
<text transform="translate(1253.5 342.7) scale(1 1.1)" font-size="25.9" text-anchor="end">0.3</text>
<text transform="translate(1253.5 379.4) scale(1 1.1)" font-size="25.9" text-anchor="end">0.2</text>
<text transform="translate(1253.5 416.2) scale(1 1.1)" font-size="25.9" text-anchor="end">0.1</text>
<text transform="translate(1253.5 452.9) scale(1 1.1)" font-size="25.9" text-anchor="end">0.0</text>
<text transform="translate(1253.5 489.6) scale(1 1.1)" font-size="25.9" text-anchor="end">-0.1</text>
<text transform="translate(1314.7 506.7) scale(1 1.03)" font-size="24.3" text-anchor="middle">Bundle1</text>
<text transform="translate(1411.2 506.7) scale(1 1.03)" font-size="24.3" text-anchor="middle">Bundle2</text>
<text transform="translate(1507.6 506.7) scale(1 1.03)" font-size="24.3" text-anchor="middle">Bundle3</text>
<text transform="translate(1604 506.7) scale(1 1.03)" font-size="24.3" text-anchor="middle">Bundle4</text>
<text transform="translate(1700.5 506.7) scale(1 1.03)" font-size="24.3" text-anchor="middle">Bundle5</text>
<text transform="translate(1507.6 538.5) scale(1 1.05)" font-size="27.4" text-anchor="middle">Storm Retention</text>
</g>
</g>
<g id="panel4">
<g stroke="#9c9c9c" stroke-width="1.1" fill="none"><path d="M1874.5 185.1V206.6" stroke-dasharray="1.5 3.6" stroke-width="1.6" opacity="0.3"/><path d="M1874.5 127.7V135.5M1874.5 154.9V183.1M1871.2 183.1H1877.7"/><rect x="1869.4" y="135.5" width="10.2" height="19.4" fill="#d2d2d2"/><path d="M1869.4 143.6H1879.5" stroke-width="1.1"/><path d="M1870.5 150L1878.5 142M1870.5 142L1878.5 150" stroke-width="0.9"/></g>
<g stroke="#7b4331" stroke-width="1.1" fill="none"><path d="M1889.8 189.2V265.8" stroke-dasharray="1.5 3.6" stroke-width="1.6" opacity="0.3"/><path d="M1889.8 127.7V140.3M1889.8 159.4V187.2M1886.6 187.2H1893"/><rect x="1884.8" y="140.3" width="10.2" height="19.1" fill="#bdbdbd"/><path d="M1884.8 147.3H1894.9" stroke-width="1.1"/><path d="M1885.8 154.6L1893.8 146.6M1885.8 146.6L1893.8 154.6" stroke-width="0.9"/></g>
<g stroke="#2f9e6e" stroke-width="1.1" fill="none"><path d="M1905.2 186.5V230.8" stroke-dasharray="1.5 3.6" stroke-width="1.6" opacity="0.4"/><path d="M1905.2 127.7V132.8M1905.2 153.5V184.5M1902 184.5H1908.5"/><rect x="1900.2" y="132.8" width="10.2" height="20.7" fill="#addfc4"/><path d="M1900.2 142.5H1910.3" stroke-width="1.1"/><path d="M1901.2 149.4L1909.2 141.4M1901.2 141.4L1909.2 149.4" stroke-width="0.9"/></g>
<g stroke="#eaa027" stroke-width="1.1" fill="none"><path d="M1920.7 192.4V290.1" stroke-dasharray="1.5 3.6" stroke-width="1.6" opacity="0.3"/><path d="M1920.7 127.7V135.5M1920.7 157.6V190.4M1917.5 190.4H1923.9" opacity="0.5"/><rect x="1915.6" y="135.5" width="10.2" height="22.1" fill="#f9d4a1" stroke-opacity="0.6"/><path d="M1915.6 145.2H1925.8" stroke-width="1.1"/><path d="M1916.7 153.5L1924.7 145.5" stroke-width="0.9"/></g>
<g stroke="#d25560" stroke-width="1.1" fill="none"><path d="M1936 219.3V303.5" stroke-dasharray="1.5 3.6" stroke-width="1.6" opacity="0.3"/><path d="M1936 127.7V136.6M1936 168.3V217.3M1932.8 217.3H1939.2"/><rect x="1931" y="136.6" width="10.2" height="31.8" fill="#f8b2b6"/><path d="M1931 150.6H1941.1" stroke-width="1.1"/><path d="M1932 159.4L1940 151.4M1932 151.4L1940 159.4" stroke-width="0.9"/></g>
<g stroke="#9c9c9c" stroke-width="1.1" fill="none"><path d="M1971 219.9V287.4" stroke-dasharray="1.5 3.6" stroke-width="1.6" opacity="0.2"/><path d="M1971 127.7V173.4" opacity="0.2"/><rect x="1965.9" y="173.4" width="10.2" height="44.4" fill="#d2d2d2" stroke-opacity="0.3"/><path d="M1965.9 193.6H1976" stroke-width="1.1"/></g>
<g stroke="#7b4331" stroke-width="1.1" fill="none"><path d="M1986.3 146.5V176.7M1983.1 146.5H1989.5M1986.3 231.3V307M1983.1 307H1989.5" opacity="0.3"/><rect x="1981.2" y="176.7" width="10.2" height="54.7" fill="#bdbdbd" stroke-opacity="0.4"/><path d="M1981.2 201.2H1991.4" stroke-width="1.1"/><path d="M1982.3 210.6L1990.3 202.6M1982.3 202.6L1990.3 210.6" stroke-width="0.9"/></g>
<g stroke="#2f9e6e" stroke-width="1.1" fill="none"><path d="M2001.8 127.7V176.9M2001.8 231.3V311.6M1998.5 311.6H2005"/><rect x="1996.7" y="176.9" width="10.2" height="54.4" fill="#addfc4"/><path d="M1996.7 202H2006.8" stroke-width="1.1"/><path d="M1997.8 211.1L2005.8 203.1M1997.8 203.1L2005.8 211.1" stroke-width="0.9"/></g>
<g stroke="#eaa027" stroke-width="1.1" fill="none"><path d="M2017.2 127.7V183.1M2017.2 250.2V327M2014 327H2020.4"/><rect x="2012.1" y="183.1" width="10.2" height="67.1" fill="#f9d4a1"/><path d="M2012.1 214.7H2022.2" stroke-width="1.1"/><path d="M2013.2 222.7L2021.2 214.7M2013.2 214.7L2021.2 222.7" stroke-width="0.9"/></g>
<g stroke="#d25560" stroke-width="1.1" fill="none"><path d="M2032.5 127.7V207.1M2032.5 268V327M2029.3 327H2035.8"/><rect x="2027.5" y="207.1" width="10.2" height="60.9" fill="#f8b2b6"/><path d="M2027.5 237.5H2037.6" stroke-width="1.1"/><path d="M2028.5 240.2L2036.5 232.2" stroke-width="0.9"/></g>
<g stroke="#9c9c9c" stroke-width="1.1" fill="none"><path d="M2067.4 127.7V140.6M2067.4 211.2V315.6M2064.2 315.6H2070.6"/><rect x="2062.3" y="140.6" width="10.2" height="70.6" fill="#d2d2d2"/><path d="M2062.3 173.2H2072.5" stroke-width="1.1"/><path d="M2063.4 181L2071.4 189" stroke-width="0.9"/></g>
<g stroke="#7b4331" stroke-width="1.1" fill="none"><path d="M2082.8 127.7V141.9M2082.8 203.9V288.2"/><rect x="2077.8" y="141.9" width="10.2" height="61.9" fill="#bdbdbd"/><path d="M2077.8 167.5H2087.9" stroke-width="1.1"/><path d="M2078.8 178.3L2086.8 170.3M2078.8 170.3L2086.8 178.3" stroke-width="0.9"/></g>
<g stroke="#2f9e6e" stroke-width="1.1" fill="none"><path d="M2098.2 127.7V128.5M2098.2 198.5V300.8M2095.1 300.8H2101.4"/><rect x="2093.2" y="128.5" width="10.2" height="70" fill="#addfc4"/><path d="M2093.2 150.6H2103.3" stroke-width="1.1"/><path d="M2094.2 162.2L2102.2 170.2" stroke-width="0.9"/></g>
<g stroke="#eaa027" stroke-width="1.1" fill="none"><path d="M2113.7 127.7V128.5M2113.7 199.8V298.1M2110.5 298.1H2116.8" opacity="0.5"/><rect x="2108.6" y="128.5" width="10.2" height="71.4" fill="#f9d4a1" stroke-opacity="0.5"/><path d="M2108.6 154.1H2118.8" stroke-width="1.1"/><path d="M2109.7 172.3L2117.7 164.3" stroke-width="0.9"/></g>
<g stroke="#d25560" stroke-width="1.1" fill="none"><path d="M2129.1 127.7V129.8M2129.1 203.9V303M2125.9 303H2132.2"/><rect x="2124" y="129.8" width="10.2" height="74.1" fill="#f8b2b6"/><path d="M2124 156.8H2134.2" stroke-width="1.1"/><path d="M2125.1 166.2L2133.1 174.2" stroke-width="0.9" opacity="0.5"/></g>
<g stroke="#9c9c9c" stroke-width="1.1" fill="none"><path d="M2163.9 195.8V247.5" stroke-dasharray="1.5 3.6" stroke-width="1.6" opacity="0.3"/><path d="M2163.9 307.4V349.3" stroke-dasharray="1.5 3.6" stroke-width="1.6" opacity="0.3"/><path d="M2163.9 247.5V269.1M2160.8 247.5H2167.1M2163.9 284.4V305.4M2160.8 305.4H2167.1"/><rect x="2158.8" y="269.1" width="10.2" height="15.4" fill="#d2d2d2"/><path d="M2158.8 276.6H2169" stroke-width="1.1"/><path d="M2159.9 280.6L2167.9 272.6M2159.9 272.6L2167.9 280.6" stroke-width="0.9"/></g>
<g stroke="#7b4331" stroke-width="1.1" fill="none"><path d="M2179.3 168.9V265.8" stroke-dasharray="1.5 2.6" stroke-width="1.7" opacity="0.8"/><path d="M2179.3 335.8V357.4" stroke-dasharray="1.5 2.6" stroke-width="1.7" opacity="0.7"/><rect x="2174.2" y="292.7" width="10.2" height="18.3" fill="#bdbdbd"/><path d="M2174.2 301.6H2184.4" stroke-width="1.1"/></g>
<g stroke="#2f9e6e" stroke-width="1.1" fill="none"><path d="M2194.8 201.2V263.7" stroke-dasharray="1.5 3.6" stroke-width="1.6" opacity="0.4"/><path d="M2194.8 378.2V384.3" stroke-dasharray="1.5 3.6" stroke-width="1.6" opacity="0.3"/><path d="M2194.8 263.7V306.5M2191.6 263.7H2197.9M2194.8 334.8V376.2M2191.6 376.2H2197.9"/><rect x="2189.7" y="306.5" width="10.2" height="28.3" fill="#addfc4"/><path d="M2189.7 319.1H2199.8" stroke-width="1.1"/><path d="M2190.8 322.3L2198.8 314.3M2190.8 314.3L2198.8 322.3" stroke-width="0.9"/></g>
<g stroke="#eaa027" stroke-width="1.1" fill="none"><path d="M2210.2 158.1V256.4" stroke-dasharray="1.5 3.6" stroke-width="1.6" opacity="0.3"/><path d="M2210.2 256.4V305.4M2207 256.4H2213.3M2210.2 337.7V378.9M2207 378.9H2213.3"/><rect x="2205.1" y="305.4" width="10.2" height="32.3" fill="#f9d4a1"/><path d="M2205.1 319.7H2215.2" stroke-width="1.1"/><path d="M2206.2 323.7L2214.2 315.7M2206.2 315.7L2214.2 323.7" stroke-width="0.9"/></g>
<g stroke="#d25560" stroke-width="1.1" fill="none"><path d="M2225.6 201.2V265.3" stroke-dasharray="1.5 3.6" stroke-width="1.6" opacity="0.4"/><path d="M2225.6 265.3V307.8M2222.4 265.3H2228.8M2225.6 337.5V380M2222.4 380H2228.8"/><rect x="2220.5" y="307.8" width="10.2" height="29.6" fill="#f8b2b6"/><path d="M2220.5 321H2230.7" stroke-width="1.1"/><path d="M2221.6 317L2229.6 325" stroke-width="0.9"/></g>
<g stroke="#9c9c9c" stroke-width="1.1" fill="none"><path d="M2260.4 128.5V220" stroke-dasharray="1.5 3.6" stroke-width="1.6" opacity="0.2"/><path d="M2260.4 220V292.7M2257.2 220H2263.6M2260.4 345V448.9" opacity="0.5"/><rect x="2255.3" y="292.7" width="10.2" height="52.2" fill="#d2d2d2"/><path d="M2255.3 311.3H2265.5" stroke-width="1.1"/><path d="M2256.4 326.4L2264.4 318.4" stroke-width="0.9"/></g>
<g stroke="#7b4331" stroke-width="1.1" fill="none"><path d="M2275.8 158.1V248.9" stroke-dasharray="1.5 3.6" stroke-width="1.6" opacity="0.4"/><path d="M2275.8 248.9V321.8M2272.7 248.9H2279M2275.8 370.3V440.3M2272.7 440.3H2279"/><rect x="2270.8" y="321.8" width="10.2" height="48.5" fill="#bdbdbd" stroke-opacity="0.8"/><path d="M2270.8 346.6H2280.9" stroke-width="1.1"/></g>
<g stroke="#2f9e6e" stroke-width="1.1" fill="none"><path d="M2291.2 241.6V307.6" stroke-dasharray="1.5 3.6" stroke-width="1.6" opacity="0.3"/><path d="M2291.2 307.6V376.2M2291.2 423.1V449.2M2288.1 449.2H2294.4"/><rect x="2286.2" y="376.2" width="10.2" height="46.9" fill="#addfc4"/><path d="M2287.2 400.4L2295.2 392.4M2287.2 392.4L2295.2 400.4" stroke-width="0.9"/></g>
<g stroke="#eaa027" stroke-width="1.1" fill="none"><path d="M2306.7 276.6V308.9" stroke-dasharray="1.5 2.6" stroke-width="1.7" opacity="0.6"/><path d="M2306.7 419.3V449.2M2303.5 449.2H2309.8" opacity="0.3"/><rect x="2301.6" y="374.9" width="10.2" height="44.4" fill="#f9d4a1"/><path d="M2301.6 391H2311.8" stroke-width="1.1"/><path d="M2302.7 398.5L2310.7 390.5M2302.7 390.5L2310.7 398.5" stroke-width="0.9"/></g>
<g stroke="#d25560" stroke-width="1.1" fill="none"><path d="M2322.1 233.5V309.4" stroke-dasharray="1.5 3.6" stroke-width="1.6" opacity="0.3"/><path d="M2322.1 309.4V377.3M2318.9 309.4H2325.2M2322.1 424.2V449.2M2318.9 449.2H2325.2" opacity="0.5"/><rect x="2317" y="377.3" width="10.2" height="46.9" fill="#f8b2b6"/><path d="M2317 397.8H2327.2" stroke-width="1.1"/><path d="M2318.1 403.1L2326.1 395.1" stroke-width="0.9"/></g>
<g>
<path d="M1857 94.8H2339.5V547.7H1857Z M1857 481.3H2339.5 M1857 514.7H2339.5" fill="none" stroke="#111" stroke-width="1.5"/>
<path d="M1953.5 481.3V514.7M2050 481.3V514.7M2146.5 481.3V514.7M2243 481.3V514.7" stroke="#111" stroke-width="1.5" fill="none"/>
<path d="M1849 95.5H1857M1849 127.7H1857M1849 159.8H1857M1849 192H1857M1849 224.2H1857M1849 256.3H1857M1849 288.4H1857M1849 320.6H1857M1849 352.8H1857M1849 384.9H1857M1849 417.1H1857M1849 449.2H1857M1849 481.4H1857M1852.5 111.6H1857M1852.5 143.8H1857M1852.5 175.9H1857M1852.5 208.1H1857M1852.5 240.2H1857M1852.5 272.4H1857M1852.5 304.5H1857M1852.5 336.7H1857M1852.5 368.8H1857M1852.5 401H1857M1852.5 433.1H1857M1852.5 465.3H1857" stroke="#111" stroke-width="1.4" fill="none"/>
<text transform="translate(1844 103.5) scale(1 1.1)" font-size="25.9" text-anchor="end">1.1</text>
<text transform="translate(1844 135.7) scale(1 1.1)" font-size="25.9" text-anchor="end">1.0</text>
<text transform="translate(1844 167.8) scale(1 1.1)" font-size="25.9" text-anchor="end">0.9</text>
<text transform="translate(1844 200) scale(1 1.1)" font-size="25.9" text-anchor="end">0.8</text>
<text transform="translate(1844 232.2) scale(1 1.1)" font-size="25.9" text-anchor="end">0.7</text>
<text transform="translate(1844 264.3) scale(1 1.1)" font-size="25.9" text-anchor="end">0.6</text>
<text transform="translate(1844 296.4) scale(1 1.1)" font-size="25.9" text-anchor="end">0.5</text>
<text transform="translate(1844 328.6) scale(1 1.1)" font-size="25.9" text-anchor="end">0.4</text>
<text transform="translate(1844 360.8) scale(1 1.1)" font-size="25.9" text-anchor="end">0.3</text>
<text transform="translate(1844 392.9) scale(1 1.1)" font-size="25.9" text-anchor="end">0.2</text>
<text transform="translate(1844 425.1) scale(1 1.1)" font-size="25.9" text-anchor="end">0.1</text>
<text transform="translate(1844 457.2) scale(1 1.1)" font-size="25.9" text-anchor="end">0.0</text>
<text transform="translate(1844 489.4) scale(1 1.1)" font-size="25.9" text-anchor="end">-0.1</text>
<text transform="translate(1905.2 506.7) scale(1 1.03)" font-size="24.3" text-anchor="middle">Bundle1</text>
<text transform="translate(2001.8 506.7) scale(1 1.03)" font-size="24.3" text-anchor="middle">Bundle2</text>
<text transform="translate(2098.2 506.7) scale(1 1.03)" font-size="24.3" text-anchor="middle">Bundle3</text>
<text transform="translate(2194.8 506.7) scale(1 1.03)" font-size="24.3" text-anchor="middle">Bundle4</text>
<text transform="translate(2291.2 506.7) scale(1 1.03)" font-size="24.3" text-anchor="middle">Bundle5</text>
<text transform="translate(2098.2 538.5) scale(1 1.05)" font-size="27.4" text-anchor="middle">Habitat Quality</text>
</g>
</g>
<g id="panel5">
<g stroke="#9c9c9c" stroke-width="1.1" fill="none"><path d="M91.1 762.4V778.5" stroke-dasharray="1.5 2.6" stroke-width="1.7" opacity="0.3"/><rect x="86" y="827.5" width="10.2" height="31.8" fill="#d2d2d2" stroke-opacity="0.6"/><path d="M86 846.4H96.2" stroke-width="1.1"/></g>
<g stroke="#7b4331" stroke-width="1.1" fill="none"><path d="M106.5 790.6V809.5" stroke-dasharray="1.5 3.6" stroke-width="1.6" opacity="0.5"/><path d="M106.5 809.5V856.6M106.5 888.1V914.5"/><rect x="101.4" y="856.6" width="10.2" height="31.5" fill="#bdbdbd"/><path d="M101.4 879H111.6" stroke-width="1.1"/><path d="M102.5 867.4L110.5 875.4" stroke-width="0.9"/></g>
<g stroke="#2f9e6e" stroke-width="1.1" fill="none"><path d="M121.9 789.3V824.8" stroke-dasharray="1.5 3.6" stroke-width="1.6" opacity="0.5"/><path d="M121.9 824.8V866.6M121.9 893.5V926.9M118.7 926.9H125.1"/><rect x="116.8" y="866.6" width="10.2" height="26.9" fill="#addfc4"/><path d="M116.8 883.5H127" stroke-width="1.1"/><path d="M117.9 882.7L125.9 874.7M117.9 874.7L125.9 882.7" stroke-width="0.9"/></g>
<g stroke="#eaa027" stroke-width="1.1" fill="none"><path d="M137.3 699.1V713.9" stroke-dasharray="1.5 3.6" stroke-width="1.6" opacity="0.4"/><path d="M137.3 713.9V783.4M137.3 827.5V885.7"/><rect x="132.2" y="783.4" width="10.2" height="44.2" fill="#f9d4a1"/><path d="M133.3 808.1L141.3 800.1M133.3 800.1L141.3 808.1" stroke-width="0.9"/></g>
<g stroke="#d25560" stroke-width="1.1" fill="none"><path d="M152.8 669.4V719.3" stroke-dasharray="1.5 3.6" stroke-width="1.6" opacity="0.6"/><path d="M152.8 719.3V782.3M152.8 821.3V876.3"/><rect x="147.7" y="782.3" width="10.2" height="39" fill="#f8b2b6"/><path d="M147.7 807.1H157.8" stroke-width="1.1"/><path d="M148.8 801.9L156.8 793.9M148.8 793.9L156.8 801.9" stroke-width="0.9"/></g>
<g stroke="#9c9c9c" stroke-width="1.1" fill="none"><path d="M187.4 769.1V803.8" stroke-dasharray="1.5 3.6" stroke-width="1.6" opacity="0.4"/><path d="M187.4 803.8V844M184.2 803.8H190.6M187.4 869.3V908.3M184.2 908.3H190.6"/><rect x="182.3" y="844" width="10.2" height="25.3" fill="#d2d2d2"/><path d="M183.4 857.9L191.4 849.9M183.4 849.9L191.4 857.9" stroke-width="0.9"/></g>
<g stroke="#7b4331" stroke-width="1.1" fill="none"><path d="M202.8 792V832.4" stroke-dasharray="1.5 3.6" stroke-width="1.6" opacity="0.5"/><path d="M202.8 832.4V874.4M199.7 832.4H206M202.8 901.9V920.7M199.7 920.7H206"/><rect x="197.8" y="874.4" width="10.2" height="27.5" fill="#bdbdbd"/><path d="M197.8 884.9H207.9" stroke-width="1.1"/><path d="M198.8 887L206.8 879M198.8 879L206.8 887" stroke-width="0.9"/></g>
<g stroke="#2f9e6e" stroke-width="1.1" fill="none"><path d="M218.2 789.3V827.5" stroke-dasharray="1.5 3.6" stroke-width="1.6" opacity="0.5"/><path d="M218.2 827.5V871.7M215.1 827.5H221.4M218.2 901V929.6M215.1 929.6H221.4"/><rect x="213.2" y="871.7" width="10.2" height="29.4" fill="#addfc4"/><path d="M213.2 890.3H223.3" stroke-width="1.1"/><path d="M214.2 887.5L222.2 879.5" stroke-width="0.9" opacity="0.3"/></g>
<g stroke="#eaa027" stroke-width="1.1" fill="none"><path d="M233.7 705.8V730" stroke-dasharray="1.5 2.6" stroke-width="1.7" opacity="0.7"/><rect x="228.6" y="799.5" width="10.2" height="45.8" fill="#f9d4a1" stroke-opacity="0.7"/><path d="M228.6 829.7H238.8" stroke-width="1.1"/><path d="M229.7 817.6L237.7 825.6" stroke-width="0.9" opacity="0.3"/></g>
<g stroke="#d25560" stroke-width="1.1" fill="none"><path d="M249.1 670.8V711.2" stroke-dasharray="1.5 3.6" stroke-width="1.6" opacity="0.4"/><path d="M249.1 711.2V784.4M249.1 832.9V898.4"/><rect x="244" y="784.4" width="10.2" height="48.5" fill="#f8b2b6"/><path d="M244 813.3H254.2" stroke-width="1.1"/><path d="M245.1 810.2L253.1 802.2M245.1 802.2L253.1 810.2" stroke-width="0.9"/></g>
<g stroke="#9c9c9c" stroke-width="1.1" fill="none"><path d="M283.7 890.1V953.6" stroke-dasharray="1.5 3.6" stroke-width="1.6" opacity="0.2"/><path d="M283.7 735.4V769.6M280.5 735.4H286.9M283.7 816.2V888.1M280.5 888.1H286.9"/><rect x="278.6" y="769.6" width="10.2" height="46.6" fill="#d2d2d2"/><path d="M278.6 795.7H288.8" stroke-width="1.1"/><path d="M279.7 797.4L287.7 805.4" stroke-width="0.9"/></g>
<g stroke="#7b4331" stroke-width="1.1" fill="none"><path d="M299.1 907.5V929.3" stroke-dasharray="1.5 2.6" stroke-width="1.7" opacity="0.6"/><path d="M295.9 907H302.3" stroke-width="1.5"/><rect x="294" y="804.6" width="10.2" height="41.7" fill="#bdbdbd" stroke-opacity="0.5"/><path d="M294 822.1H304.2" stroke-width="1.1"/><path d="M295.1 835L303.1 827" stroke-width="0.9"/></g>
<g stroke="#2f9e6e" stroke-width="1.1" fill="none"><path d="M314.5 761.5V831.3M311.3 761.5H317.7M314.5 879.5V952.8M311.3 952.8H317.7"/><rect x="309.4" y="831.3" width="10.2" height="48.2" fill="#addfc4"/><path d="M309.4 855.3H319.6" stroke-width="1.1"/><path d="M310.5 854L318.5 862" stroke-width="0.9"/></g>
<g stroke="#eaa027" stroke-width="1.1" fill="none"><path d="M329.9 878.8V948.2" stroke-dasharray="1.5 3.6" stroke-width="1.6" opacity="0.2"/><path d="M329.9 676.2V752.1M329.9 804.9V876.8M326.7 876.8H333.1"/><rect x="324.8" y="752.1" width="10.2" height="52.8" fill="#f9d4a1"/><path d="M324.8 776.6H335" stroke-width="1.1"/><path d="M325.9 778.6L333.9 786.6" stroke-width="0.9"/></g>
<g stroke="#d25560" stroke-width="1.1" fill="none"><path d="M345.3 878.8V953.6" stroke-dasharray="1.5 3.6" stroke-width="1.6" opacity="0.2"/><path d="M345.3 657.1V737.8M342.1 657.1H348.5M345.3 793.6V876.8"/><rect x="340.2" y="737.8" width="10.2" height="55.7" fill="#f8b2b6"/><path d="M341.3 773.1L349.3 765.1M341.3 765.1L349.3 773.1" stroke-width="0.9"/></g>
<g stroke="#9c9c9c" stroke-width="1.1" fill="none"><path d="M380 857.3V894.3" stroke-dasharray="1.5 3.6" stroke-width="1.6" opacity="0.3"/><path d="M380 735.4V778.2M376.8 735.4H383.2M380 809.5V855.3" opacity="0.8"/><rect x="374.9" y="778.2" width="10.2" height="31.2" fill="#d2d2d2" stroke-opacity="0.7"/><path d="M374.9 790.6H385.1" stroke-width="1.1"/><path d="M376 797.3L384 789.3M376 789.3L384 797.3" stroke-width="0.9"/></g>
<g stroke="#7b4331" stroke-width="1.1" fill="none"><path d="M395.4 897.7V918.5" stroke-dasharray="1.5 3.6" stroke-width="1.6" opacity="0.4"/><path d="M395.4 766.9V801.1M395.4 838.8V895.7M392.2 895.7H398.6"/><rect x="390.3" y="801.1" width="10.2" height="37.7" fill="#bdbdbd"/></g>
<g stroke="#2f9e6e" stroke-width="1.1" fill="none"><path d="M410.8 882.8V918.5" stroke-dasharray="1.5 3.6" stroke-width="1.6" opacity="0.4"/><path d="M410.8 769.4V811.1M407.6 769.4H414M410.8 838.8V880.8"/><rect x="405.7" y="811.1" width="10.2" height="27.7" fill="#addfc4"/><path d="M405.7 825.6H415.9" stroke-width="1.1"/><path d="M406.8 821.6L414.8 829.6" stroke-width="0.9"/></g>
<g stroke="#eaa027" stroke-width="1.1" fill="none"><path d="M426.2 829.8V880.8" stroke-dasharray="1.5 3.6" stroke-width="1.6" opacity="0.4"/><path d="M426.2 682.1V730.3M423 682.1H429.4M426.2 768.3V827.8M423 827.8H429.4" opacity="0.8"/><rect x="421.1" y="730.3" width="10.2" height="38" fill="#f9d4a1"/><path d="M421.1 745.4H431.3" stroke-width="1.1"/><path d="M422.2 752.9L430.2 744.9M422.2 744.9L430.2 752.9" stroke-width="0.9"/></g>
<g stroke="#d25560" stroke-width="1.1" fill="none"><path d="M441.6 867.1V871.4" stroke-dasharray="1.5 2.6" stroke-width="1.7" opacity="0.5"/><path d="M438.4 649.8H444.8" stroke-width="1.5"/><path d="M438.4 866.6H444.8" stroke-width="1.5"/><rect x="436.5" y="720.3" width="10.2" height="58.2" fill="#f8b2b6"/><path d="M436.5 751.9H446.8" stroke-width="1.1"/><path d="M437.6 752.9L445.6 744.9M437.6 744.9L445.6 752.9" stroke-width="0.9"/></g>
<g stroke="#9c9c9c" stroke-width="1.1" fill="none"><path d="M476.3 843.5V888.9" stroke-dasharray="1.5 3.6" stroke-width="1.6" opacity="0.3"/><path d="M476.3 731.7V766.9M473.1 731.7H479.5M476.3 796.3V841.5M473.1 841.5H479.5"/><rect x="471.2" y="766.9" width="10.2" height="29.4" fill="#d2d2d2"/><path d="M471.2 780.7H481.4" stroke-width="1.1"/><path d="M472.3 788.4L480.3 780.4M472.3 780.4L480.3 788.4" stroke-width="0.9"/></g>
<g stroke="#7b4331" stroke-width="1.1" fill="none"><path d="M491.7 868V913.2" stroke-dasharray="1.5 3.6" stroke-width="1.6" opacity="0.4"/><path d="M491.7 761.5V785.8M491.7 817.8V866"/><rect x="486.6" y="785.8" width="10.2" height="32" fill="#bdbdbd"/><path d="M486.6 798.2H496.8" stroke-width="1.1"/><path d="M487.7 800.1L495.7 808.1" stroke-width="0.9"/></g>
<g stroke="#2f9e6e" stroke-width="1.1" fill="none"><path d="M507.1 872.3V926.6" stroke-dasharray="1.5 3.6" stroke-width="1.6" opacity="0.4"/><path d="M507.1 757V794.7M503.9 757H510.3M507.1 825.1V870.3M503.9 870.3H510.3" opacity="0.8"/><rect x="502" y="794.7" width="10.2" height="30.4" fill="#addfc4"/><path d="M502 808.4H512.2" stroke-width="1.1"/><path d="M503.1 808.2L511.1 816.2" stroke-width="0.9"/></g>
<g stroke="#eaa027" stroke-width="1.1" fill="none"><path d="M522.5 806.6V886.2" stroke-dasharray="1.5 3.6" stroke-width="1.6" opacity="0.3"/><path d="M522.5 668.6V711.7M519.3 668.6H525.8M522.5 749.4V804.6M519.3 804.6H525.8"/><rect x="517.4" y="711.7" width="10.2" height="37.7" fill="#f9d4a1"/><path d="M517.4 730.3H527.6" stroke-width="1.1"/></g>
<g stroke="#d25560" stroke-width="1.1" fill="none"><path d="M537.9 828.2V880.8" stroke-dasharray="1.5 3.6" stroke-width="1.6" opacity="0.3"/><path d="M537.9 642V699.3M534.7 642H541.1M537.9 750.8V826.2M534.7 826.2H541.1"/><rect x="532.8" y="699.3" width="10.2" height="51.4" fill="#f8b2b6"/><path d="M533.9 730L541.9 722" stroke-width="0.9" opacity="0.5"/></g>
<g>
<path d="M73.8 602.8H555.3V1055.3H73.8Z M73.8 990H555.3 M73.8 1022.4H555.3" fill="none" stroke="#111" stroke-width="1.5"/>
<path d="M170.1 990V1022.4M266.4 990V1022.4M362.7 990V1022.4M459 990V1022.4" stroke="#111" stroke-width="1.5" fill="none"/>
<path d="M65.8 621.8H73.8M65.8 658.6H73.8M65.8 695.5H73.8M65.8 732.3H73.8M65.8 769.1H73.8M65.8 806H73.8M65.8 842.8H73.8M65.8 879.6H73.8M65.8 916.5H73.8M65.8 953.3H73.8M65.8 990.1H73.8M69.3 640.2H73.8M69.3 677H73.8M69.3 713.9H73.8M69.3 750.7H73.8M69.3 787.5H73.8M69.3 824.4H73.8M69.3 861.2H73.8M69.3 898H73.8M69.3 934.9H73.8M69.3 971.7H73.8" stroke="#111" stroke-width="1.4" fill="none"/>
<text transform="translate(60.8 629.8) scale(1 1.1)" font-size="25.9" text-anchor="end">900</text>
<text transform="translate(60.8 666.6) scale(1 1.1)" font-size="25.9" text-anchor="end">800</text>
<text transform="translate(60.8 703.5) scale(1 1.1)" font-size="25.9" text-anchor="end">700</text>
<text transform="translate(60.8 740.3) scale(1 1.1)" font-size="25.9" text-anchor="end">600</text>
<text transform="translate(60.8 777.1) scale(1 1.1)" font-size="25.9" text-anchor="end">500</text>
<text transform="translate(60.8 814) scale(1 1.1)" font-size="25.9" text-anchor="end">400</text>
<text transform="translate(60.8 850.8) scale(1 1.1)" font-size="25.9" text-anchor="end">300</text>
<text transform="translate(60.8 887.6) scale(1 1.1)" font-size="25.9" text-anchor="end">200</text>
<text transform="translate(60.8 924.5) scale(1 1.1)" font-size="25.9" text-anchor="end">100</text>
<text transform="translate(60.8 961.3) scale(1 1.1)" font-size="25.9" text-anchor="end">0</text>
<text transform="translate(60.8 998.1) scale(1 1.1)" font-size="25.9" text-anchor="end">-100</text>
<text transform="translate(121.9 1014.4) scale(1 1.03)" font-size="24.3" text-anchor="middle">Bundle1</text>
<text transform="translate(218.2 1014.4) scale(1 1.03)" font-size="24.3" text-anchor="middle">Bundle2</text>
<text transform="translate(314.5 1014.4) scale(1 1.03)" font-size="24.3" text-anchor="middle">Bundle3</text>
<text transform="translate(410.8 1014.4) scale(1 1.03)" font-size="24.3" text-anchor="middle">Bundle4</text>
<text transform="translate(507.1 1014.4) scale(1 1.03)" font-size="24.3" text-anchor="middle">Bundle5</text>
<text transform="translate(314.5 1046.1) scale(1 1.05)" font-size="27.4" text-anchor="middle">Water Yield</text>
</g>
</g>
<g id="panel6">
<g stroke="#9c9c9c" stroke-width="1.1" fill="none"><path d="M692.5 666.2V743M689.3 666.2H695.7M692.5 892.2V960M689.3 960H695.7" opacity="0.9"/><rect x="687.4" y="743" width="10.2" height="149.2" fill="#d2d2d2"/><path d="M688.5 827.5L696.5 819.5M688.5 819.5L696.5 827.5" stroke-width="0.9"/></g>
<g stroke="#7b4331" stroke-width="1.1" fill="none"><path d="M707.9 763.2V838.6M704.7 763.2H711.1M707.9 902.1V960M704.7 960H711.1"/><rect x="702.8" y="838.6" width="10.2" height="63.6" fill="#bdbdbd"/><path d="M702.8 867.4H713" stroke-width="1.1"/><path d="M703.9 874.1L711.9 866.1" stroke-width="0.9"/></g>
<g stroke="#2f9e6e" stroke-width="1.1" fill="none"><path d="M723.3 779.9V853.6M720.1 779.9H726.5M723.3 927.2V960M720.1 960H726.5" opacity="0.6"/><rect x="718.2" y="853.6" width="10.2" height="73.5" fill="#addfc4"/><path d="M718.2 887.8H728.4" stroke-width="1.1"/><path d="M719.3 886.3L727.3 894.3" stroke-width="0.9" opacity="0.3"/></g>
<g stroke="#eaa027" stroke-width="1.1" fill="none"><path d="M738.7 748.1V840.2M735.5 748.1H741.9M738.7 919.6V960M735.5 960H741.9"/><rect x="733.6" y="840.2" width="10.2" height="79.4" fill="#f9d4a1"/><path d="M734.7 882.2L742.7 874.2" stroke-width="0.9"/></g>
<g stroke="#d25560" stroke-width="1.1" fill="none"><path d="M754.1 734.1V828.6M754.1 915.6V960M750.9 960H757.3"/><rect x="749" y="828.6" width="10.2" height="87" fill="#f8b2b6"/><path d="M749 867.7H759.2" stroke-width="1.1"/></g>
<g stroke="#9c9c9c" stroke-width="1.1" fill="none"><path d="M788.9 951.9V958.9" stroke-dasharray="1.5 2.6" stroke-width="1.7" opacity="0.6"/><path d="M785.7 951.4H792.1" stroke-width="1.5"/><rect x="783.8" y="736.8" width="10.2" height="85.6" fill="#d2d2d2"/><path d="M784.9 795.4L792.9 787.4" stroke-width="0.9"/></g>
<g stroke="#7b4331" stroke-width="1.1" fill="none"><path d="M804.3 656V682.4" stroke-dasharray="1.5 3.6" stroke-width="1.6" opacity="0.5"/><path d="M804.3 863.5V956.3" stroke-dasharray="1.5 3.6" stroke-width="1.6" opacity="0.3"/><path d="M804.3 682.4V749.2M801.1 682.4H807.5M804.3 794.9V861.5M801.1 861.5H807.5"/><rect x="799.2" y="749.2" width="10.2" height="45.8" fill="#bdbdbd"/><path d="M799.2 772.3H809.4" stroke-width="1.1"/><path d="M800.3 765.1L808.3 773.1" stroke-width="0.9"/></g>
<g stroke="#2f9e6e" stroke-width="1.1" fill="none"><path d="M819.7 660V680.2" stroke-dasharray="1.5 3.6" stroke-width="1.6" opacity="0.3"/><path d="M819.7 860V907.8" stroke-dasharray="1.5 3.6" stroke-width="1.6" opacity="0.3"/><path d="M819.7 680.2V746.7M816.5 680.2H822.9M819.7 790.9V858"/><rect x="814.6" y="746.7" width="10.2" height="44.2" fill="#addfc4"/><path d="M814.6 765.6H824.8" stroke-width="1.1"/></g>
<g stroke="#eaa027" stroke-width="1.1" fill="none"><path d="M835.1 647.9V673.8" stroke-dasharray="1.5 3.6" stroke-width="1.6" opacity="0.3"/><path d="M835.1 833.6V915.9" stroke-dasharray="1.5 3.6" stroke-width="1.6" opacity="0.3"/><path d="M835.1 673.8V732.7M831.9 673.8H838.3M835.1 772.3V831.6M831.9 831.6H838.3"/><rect x="830" y="732.7" width="10.2" height="39.6" fill="#f9d4a1"/><path d="M830 751.9H840.2" stroke-width="1.1"/><path d="M831.1 748.4L839.1 756.4" stroke-width="0.9"/></g>
<g stroke="#d25560" stroke-width="1.1" fill="none"><path d="M850.5 834.9V918.5" stroke-dasharray="1.5 3.6" stroke-width="1.6" opacity="0.3"/><path d="M850.5 646V715M847.3 646H853.7M850.5 761.8V832.9M847.3 832.9H853.7"/><rect x="845.4" y="715" width="10.2" height="46.9" fill="#f8b2b6"/><path d="M845.4 741.6H855.6" stroke-width="1.1"/></g>
<g stroke="#9c9c9c" stroke-width="1.1" fill="none"><path d="M885.4 694V735.4M882.2 694H888.6M885.4 888.1V960M882.2 960H888.6"/><rect x="880.3" y="735.4" width="10.2" height="152.7" fill="#d2d2d2" stroke-opacity="0.7"/><path d="M880.3 799.5H890.5" stroke-width="1.1"/><path d="M881.4 810.9L889.4 818.9" stroke-width="0.9"/></g>
<g stroke="#7b4331" stroke-width="1.1" fill="none"><path d="M900.8 668.9V767.2M897.6 668.9H904M900.8 862.8V960M897.6 960H904"/><rect x="895.7" y="767.2" width="10.2" height="95.6" fill="#bdbdbd"/><path d="M895.7 798.2H905.9" stroke-width="1.1"/><path d="M896.8 810.9L904.8 818.9" stroke-width="0.9" opacity="0.3"/></g>
<g stroke="#2f9e6e" stroke-width="1.1" fill="none"><path d="M916.2 688.6V748.1M916.2 851.2V960M913 960H919.4"/><rect x="911.1" y="748.1" width="10.2" height="103.1" fill="#addfc4"/><path d="M911.1 789.6H921.3" stroke-width="1.1"/><path d="M912.2 808.1L920.2 800.1" stroke-width="0.9"/></g>
<g stroke="#eaa027" stroke-width="1.1" fill="none"><path d="M931.6 686.1V746.7M928.4 686.1H934.8M931.6 851.2V960M928.4 960H934.8" opacity="0.3"/><rect x="926.5" y="746.7" width="10.2" height="104.5" fill="#f9d4a1"/><path d="M927.6 800.1L935.6 808.1" stroke-width="0.9" opacity="0.2"/></g>
<g stroke="#d25560" stroke-width="1.1" fill="none"><path d="M947 680.2V743M947 846.4V960M943.8 960H950.2"/><rect x="941.9" y="743" width="10.2" height="103.4" fill="#f8b2b6"/></g>
<g stroke="#9c9c9c" stroke-width="1.1" fill="none"><path d="M981.8 945.6V960" stroke-dasharray="1.5 3.6" stroke-width="1.6" opacity="0.3"/><path d="M981.8 667.6V721.7M981.8 811.1V943.6M978.6 943.6H985"/><rect x="976.7" y="721.7" width="10.2" height="89.4" fill="#d2d2d2"/><path d="M976.7 740H986.9" stroke-width="1.1"/><path d="M977.8 769.1L985.8 777.1" stroke-width="0.9"/></g>
<g stroke="#7b4331" stroke-width="1.1" fill="none"><path d="M997.2 666.8V682.9" stroke-dasharray="1.5 2.6" stroke-width="1.7" opacity="0.5"/><path d="M997.2 771.5V859.3" stroke-dasharray="1.5 2.6" stroke-width="1.7" opacity="0.7"/><path d="M997.2 859.3V948.2" stroke-dasharray="1.5 2.6" stroke-width="1.7" opacity="0.3"/><path d="M994 683.4H1000.4" stroke-width="1.5"/><path d="M994 771H1000.4" stroke-width="1.5"/><rect x="992.1" y="716.3" width="10.2" height="21.5" fill="#bdbdbd"/><path d="M993.2 734L1001.2 726" stroke-width="0.9"/></g>
<g stroke="#2f9e6e" stroke-width="1.1" fill="none"><path d="M1012.6 784.3V948.2" stroke-dasharray="1.5 3.6" stroke-width="1.6" opacity="0.4"/><path d="M1012.6 674.8V713.9M1009.4 674.8H1015.8M1012.6 742.2V782.3M1009.4 782.3H1015.8"/><rect x="1007.5" y="713.9" width="10.2" height="28.3" fill="#addfc4"/><path d="M1008.6 727.4L1016.6 735.4" stroke-width="0.9"/></g>
<g stroke="#eaa027" stroke-width="1.1" fill="none"><path d="M1028 782.7V948.2" stroke-dasharray="1.5 3.6" stroke-width="1.6" opacity="0.3"/><path d="M1028 669.4V711.2M1028 739.2V780.7M1024.8 780.7H1031.2"/><rect x="1022.9" y="711.2" width="10.2" height="28" fill="#f9d4a1"/></g>
<g stroke="#d25560" stroke-width="1.1" fill="none"><path d="M1043.4 781.6V948.2" stroke-dasharray="1.5 3.6" stroke-width="1.6" opacity="0.3"/><path d="M1043.4 663.5V707.1M1040.2 663.5H1046.6M1043.4 735.7V779.6M1040.2 779.6H1046.6"/><rect x="1038.3" y="707.1" width="10.2" height="28.5" fill="#f8b2b6"/><path d="M1038.3 717.6H1048.5" stroke-width="1.1"/><path d="M1039.4 730L1047.4 722M1039.4 722L1047.4 730" stroke-width="0.9"/></g>
<g stroke="#9c9c9c" stroke-width="1.1" fill="none"><path d="M1078.2 677.5V732.7M1075 677.5H1081.4M1078.2 835.1V960M1075 960H1081.4" opacity="0.8"/><rect x="1073.1" y="732.7" width="10.2" height="102.3" fill="#d2d2d2"/><path d="M1073.1 773.1H1083.3" stroke-width="1.1"/><path d="M1074.2 788L1082.2 796" stroke-width="0.9"/></g>
<g stroke="#7b4331" stroke-width="1.1" fill="none"><path d="M1093.6 705.3V770.7M1090.4 705.3H1096.8M1093.6 876.8V960M1090.4 960H1096.8"/><rect x="1088.5" y="770.7" width="10.2" height="106.1" fill="#bdbdbd"/></g>
<g stroke="#2f9e6e" stroke-width="1.1" fill="none"><path d="M1109 679.9V781.2M1105.8 679.9H1112.2M1109 898.4V960M1105.8 960H1112.2"/><rect x="1103.9" y="781.2" width="10.2" height="117.1" fill="#addfc4"/><path d="M1103.9 827.5H1114.1" stroke-width="1.1"/><path d="M1105 844.5L1113 836.5M1105 836.5L1113 844.5" stroke-width="0.9"/></g>
<g stroke="#eaa027" stroke-width="1.1" fill="none"><path d="M1124.4 673.8V761.5M1121.2 673.8H1127.6M1124.4 884.6V960M1121.2 960H1127.6"/><rect x="1119.3" y="761.5" width="10.2" height="123.1" fill="#f9d4a1"/><path d="M1119.3 812.2H1129.5" stroke-width="1.1"/><path d="M1120.4 820.3L1128.4 828.3" stroke-width="0.9" opacity="0.3"/></g>
<g stroke="#d25560" stroke-width="1.1" fill="none"><path d="M1136.6 667.6H1143" stroke-width="1.5"/><path d="M1136.6 960H1143" stroke-width="1.5"/><rect x="1134.7" y="775.8" width="10.2" height="119.8" fill="#f8b2b6"/><path d="M1135.8 829.7L1143.8 837.7" stroke-width="0.9"/></g>
<g>
<path d="M675.1 602.8H1157.2V1055.3H675.1Z M675.1 990H1157.2 M675.1 1022.4H1157.2" fill="none" stroke="#111" stroke-width="1.5"/>
<path d="M771.5 990V1022.4M867.9 990V1022.4M964.4 990V1022.4M1060.8 990V1022.4" stroke="#111" stroke-width="1.5" fill="none"/>
<path d="M667.1 602.8H675.1M667.1 662.3H675.1M667.1 721.9H675.1M667.1 781.4H675.1M667.1 840.9H675.1M667.1 900.5H675.1M667.1 960H675.1M670.6 632.6H675.1M670.6 692.1H675.1M670.6 751.6H675.1M670.6 811.2H675.1M670.6 870.7H675.1M670.6 930.2H675.1M670.6 989.8H675.1" stroke="#111" stroke-width="1.4" fill="none"/>
<text transform="translate(662.1 610.8) scale(1 1.1)" font-size="25.9" text-anchor="end">12000</text>
<text transform="translate(662.1 670.3) scale(1 1.1)" font-size="25.9" text-anchor="end">10000</text>
<text transform="translate(662.1 729.9) scale(1 1.1)" font-size="25.9" text-anchor="end">8000</text>
<text transform="translate(662.1 789.4) scale(1 1.1)" font-size="25.9" text-anchor="end">6000</text>
<text transform="translate(662.1 848.9) scale(1 1.1)" font-size="25.9" text-anchor="end">4000</text>
<text transform="translate(662.1 908.5) scale(1 1.1)" font-size="25.9" text-anchor="end">2000</text>
<text transform="translate(662.1 968) scale(1 1.1)" font-size="25.9" text-anchor="end">0</text>
<text transform="translate(723.3 1014.4) scale(1 1.03)" font-size="24.3" text-anchor="middle">Bundle1</text>
<text transform="translate(819.7 1014.4) scale(1 1.03)" font-size="24.3" text-anchor="middle">Bundle2</text>
<text transform="translate(916.2 1014.4) scale(1 1.03)" font-size="24.3" text-anchor="middle">Bundle3</text>
<text transform="translate(1012.6 1014.4) scale(1 1.03)" font-size="24.3" text-anchor="middle">Bundle4</text>
<text transform="translate(1109 1014.4) scale(1 1.03)" font-size="24.3" text-anchor="middle">Bundle5</text>
<text transform="translate(916.2 1046.1) scale(1 1.05)" font-size="27.4" text-anchor="middle">Food Production</text>
</g>
</g>
<g id="panel7">
<g stroke="#9c9c9c" stroke-width="1.1" fill="none"><path d="M1283.9 724.7V765" stroke-dasharray="1.5 2.6" stroke-width="1.7" opacity="0.5"/><path d="M1283.9 850.4V855.3" stroke-dasharray="1.5 2.6" stroke-width="1.7" opacity="0.5"/><path d="M1280.7 849.9H1287.1" stroke-width="1.5"/><rect x="1278.8" y="796" width="10.2" height="20.2" fill="#d2d2d2" stroke-opacity="0.4"/><path d="M1279.9 809.4L1287.9 801.4" stroke-width="0.9"/></g>
<g stroke="#7b4331" stroke-width="1.1" fill="none"><path d="M1299.3 723.3V757" stroke-dasharray="1.5 3.6" stroke-width="1.6" opacity="0.5"/><path d="M1299.3 858.6V940.1" stroke-dasharray="1.5 3.6" stroke-width="1.6" opacity="0.3"/><path d="M1299.3 757V793.3M1299.3 818.9V856.6M1296.1 856.6H1302.5"/><rect x="1294.2" y="793.3" width="10.2" height="25.6" fill="#bdbdbd"/><path d="M1294.2 804.9H1304.4" stroke-width="1.1"/><path d="M1295.3 801.4L1303.3 809.4" stroke-width="0.9"/></g>
<g stroke="#2f9e6e" stroke-width="1.1" fill="none"><path d="M1314.7 722V761" stroke-dasharray="1.5 3.6" stroke-width="1.6" opacity="0.4"/><path d="M1314.7 846V913.2" stroke-dasharray="1.5 3.6" stroke-width="1.6" opacity="0.3"/><path d="M1314.7 761V792M1314.7 813.5V844"/><rect x="1309.6" y="792" width="10.2" height="21.5" fill="#addfc4"/><path d="M1309.6 799.5H1319.8" stroke-width="1.1"/><path d="M1310.7 806.7L1318.7 798.7M1310.7 798.7L1318.7 806.7" stroke-width="0.9"/></g>
<g stroke="#eaa027" stroke-width="1.1" fill="none"><path d="M1330.1 722V760.2" stroke-dasharray="1.5 3.6" stroke-width="1.6" opacity="0.4"/><path d="M1330.1 852.7V886.2" stroke-dasharray="1.5 3.6" stroke-width="1.6" opacity="0.3"/><path d="M1330.1 760.2V793.6M1330.1 816.2V850.7M1326.9 850.7H1333.3"/><rect x="1325" y="793.6" width="10.2" height="22.6" fill="#f9d4a1"/><path d="M1326.1 808.6L1334.1 800.6" stroke-width="0.9"/></g>
<g stroke="#d25560" stroke-width="1.1" fill="none"><path d="M1345.5 728.7V736.8" stroke-dasharray="1.5 3.6" stroke-width="1.6" opacity="0.4"/><path d="M1345.5 866.1V932" stroke-dasharray="1.5 3.6" stroke-width="1.6" opacity="0.3"/><path d="M1345.5 736.8V793.6M1345.5 822.7V864.1M1342.3 864.1H1348.7"/><rect x="1340.4" y="793.6" width="10.2" height="29.1" fill="#f8b2b6"/><path d="M1341.5 812.1L1349.5 804.1M1341.5 804.1L1349.5 812.1" stroke-width="0.9"/></g>
<g stroke="#9c9c9c" stroke-width="1.1" fill="none"><path d="M1380.4 707.1V768" stroke-dasharray="1.5 3.6" stroke-width="1.6" opacity="0.2"/><path d="M1380.4 914.1V926.6" stroke-dasharray="1.5 3.6" stroke-width="1.6" opacity="0.3"/><path d="M1380.4 768V821.6M1377.2 768H1383.6M1380.4 858V912.1M1377.2 912.1H1383.6"/><rect x="1375.3" y="821.6" width="10.2" height="36.4" fill="#d2d2d2"/><path d="M1376.4 845.8L1384.4 837.8" stroke-width="0.9" opacity="0.4"/></g>
<g stroke="#7b4331" stroke-width="1.1" fill="none"><path d="M1395.8 923V956.3" stroke-dasharray="1.5 3.6" stroke-width="1.6" opacity="0.2"/><path d="M1395.8 763.2V818.9M1392.6 763.2H1399M1395.8 859.3V921M1392.6 921H1399"/><rect x="1390.7" y="818.9" width="10.2" height="40.4" fill="#bdbdbd"/><path d="M1390.7 838.6H1400.9" stroke-width="1.1"/></g>
<g stroke="#2f9e6e" stroke-width="1.1" fill="none"><path d="M1411.2 738.1V757" stroke-dasharray="1.5 3.6" stroke-width="1.6" opacity="0.3"/><path d="M1411.2 757V816.2M1408 757H1414.4M1411.2 855.8V914.8M1408 914.8H1414.4"/><rect x="1406.1" y="816.2" width="10.2" height="39.6" fill="#addfc4"/><path d="M1406.1 835.1H1416.3" stroke-width="1.1"/><path d="M1407.2 840.4L1415.2 832.4" stroke-width="0.9"/></g>
<g stroke="#eaa027" stroke-width="1.1" fill="none"><path d="M1423.4 752.1H1429.8" stroke-width="1.5"/><rect x="1421.5" y="820.8" width="10.2" height="47.4" fill="#f9d4a1" stroke-opacity="0.7"/><path d="M1422.6 849.8L1430.6 841.8M1422.6 841.8L1430.6 849.8" stroke-width="0.9"/></g>
<g stroke="#d25560" stroke-width="1.1" fill="none"><path d="M1442 773.1V836.1M1438.8 773.1H1445.2M1442 879.5V936.1M1438.8 936.1H1445.2"/><rect x="1436.9" y="836.1" width="10.2" height="43.4" fill="#f8b2b6"/><path d="M1438 862L1446 854M1438 854L1446 862" stroke-width="0.9"/></g>
<g stroke="#9c9c9c" stroke-width="1.1" fill="none"><path d="M1476.8 646V693.7M1473.6 646H1480M1476.8 773.7V873M1473.6 873H1480"/><rect x="1471.7" y="693.7" width="10.2" height="80" fill="#d2d2d2"/><path d="M1471.7 720.3H1481.9" stroke-width="1.1"/><path d="M1472.8 730.6L1480.8 738.6" stroke-width="0.9"/></g>
<g stroke="#7b4331" stroke-width="1.1" fill="none"><path d="M1489 639.6H1495.4" stroke-width="1.5"/><path d="M1489 907H1495.4" stroke-width="1.5"/><rect x="1487.1" y="697.7" width="10.2" height="83.2" fill="#bdbdbd" stroke-opacity="0.4"/><path d="M1488.2 738.2L1496.2 746.2" stroke-width="0.9"/></g>
<g stroke="#2f9e6e" stroke-width="1.1" fill="none"><path d="M1507.6 639.6V676.4M1507.6 758.6V829.1"/><rect x="1502.5" y="676.4" width="10.2" height="82.1" fill="#addfc4"/><path d="M1502.5 713.9H1512.7" stroke-width="1.1"/><path d="M1503.6 719.8L1511.6 727.8" stroke-width="0.9" opacity="0.3"/></g>
<g stroke="#eaa027" stroke-width="1.1" fill="none"><path d="M1523 644.7V674.8M1519.8 644.7H1526.2M1523 758.6V837.8M1519.8 837.8H1526.2"/><rect x="1517.9" y="674.8" width="10.2" height="83.8" fill="#f9d4a1"/></g>
<g stroke="#d25560" stroke-width="1.1" fill="none"><path d="M1538.4 639.6V676.2M1538.4 758.6V829.9M1535.2 829.9H1541.6"/><rect x="1533.3" y="676.2" width="10.2" height="82.4" fill="#f8b2b6"/><path d="M1533.3 715.2H1543.5" stroke-width="1.1"/><path d="M1534.4 725.2L1542.4 717.2" stroke-width="0.9"/></g>
<g stroke="#9c9c9c" stroke-width="1.1" fill="none"><path d="M1573.2 781.2V865" stroke-dasharray="1.5 3.6" stroke-width="1.6" opacity="0.3"/><path d="M1573.2 905.7V940.1" stroke-dasharray="1.5 3.6" stroke-width="1.6" opacity="0.3"/><path d="M1573.2 865V880.3M1570 865H1576.4M1573.2 889.7V903.7"/><rect x="1568.1" y="880.3" width="10.2" height="9.4" fill="#d2d2d2"/><path d="M1568.1 884.6H1578.3" stroke-width="1.1"/><path d="M1569.2 888.6L1577.2 880.6M1569.2 880.6L1577.2 888.6" stroke-width="0.9"/></g>
<g stroke="#7b4331" stroke-width="1.1" fill="none"><path d="M1588.6 786.6V857.4" stroke-dasharray="1.5 3.6" stroke-width="1.6" opacity="0.5"/><path d="M1588.6 911.7V948.2" stroke-dasharray="1.5 3.6" stroke-width="1.6" opacity="0.4"/><path d="M1588.6 857.4V876.8M1585.4 857.4H1591.8M1588.6 889.7V909.7M1585.4 909.7H1591.8"/><rect x="1583.5" y="876.8" width="10.2" height="12.9" fill="#bdbdbd"/><path d="M1583.5 883.5H1593.7" stroke-width="1.1"/><path d="M1584.6 885.7L1592.6 877.7M1584.6 877.7L1592.6 885.7" stroke-width="0.9"/></g>
<g stroke="#2f9e6e" stroke-width="1.1" fill="none"><path d="M1604 752.9V863.6" stroke-dasharray="1.5 3.6" stroke-width="1.6" opacity="0.4"/><path d="M1604 911.7V937.4" stroke-dasharray="1.5 3.6" stroke-width="1.6" opacity="0.3"/><path d="M1604 863.6V880.3M1600.8 863.6H1607.2M1604 892.2V909.7M1600.8 909.7H1607.2"/><rect x="1598.9" y="880.3" width="10.2" height="11.8" fill="#addfc4"/><path d="M1600 889.4L1608 881.4M1600 881.4L1608 889.4" stroke-width="0.9"/></g>
<g stroke="#eaa027" stroke-width="1.1" fill="none"><path d="M1619.4 766.4V866.6" stroke-dasharray="1.5 3.6" stroke-width="1.6" opacity="0.5"/><path d="M1619.4 910.3V929.3" stroke-dasharray="1.5 3.6" stroke-width="1.6" opacity="0.4"/><path d="M1619.4 866.6V881.4M1616.2 866.6H1622.6M1619.4 893.5V908.3M1616.2 908.3H1622.6"/><rect x="1614.3" y="881.4" width="10.2" height="12.1" fill="#f9d4a1"/><path d="M1615.4 890.2L1623.4 882.2M1615.4 882.2L1623.4 890.2" stroke-width="0.9"/></g>
<g stroke="#d25560" stroke-width="1.1" fill="none"><path d="M1634.8 786.6V864.7" stroke-dasharray="1.5 2.6" stroke-width="1.7" opacity="0.6"/><path d="M1634.8 910.2V934.7" stroke-dasharray="1.5 2.6" stroke-width="1.7" opacity="0.5"/><path d="M1631.6 865.2H1638" stroke-width="1.5"/><path d="M1631.6 909.7H1638" stroke-width="1.5"/><rect x="1629.7" y="881.7" width="10.2" height="11.8" fill="#f8b2b6" stroke-opacity="0.8"/></g>
<g stroke="#9c9c9c" stroke-width="1.1" fill="none"><path d="M1669.7 794.7V864.1" stroke-dasharray="1.5 3.6" stroke-width="1.6" opacity="0.3"/><path d="M1669.7 906.5V950.9" stroke-dasharray="1.5 3.6" stroke-width="1.6" opacity="0.3"/><path d="M1669.7 864.1V879M1666.5 864.1H1672.9M1669.7 889.2V904.5M1666.5 904.5H1672.9"/><rect x="1664.6" y="879" width="10.2" height="10.2" fill="#d2d2d2"/><path d="M1664.6 882.7H1674.8" stroke-width="1.1"/><path d="M1665.7 886.7L1673.7 878.7M1665.7 878.7L1673.7 886.7" stroke-width="0.9"/></g>
<g stroke="#7b4331" stroke-width="1.1" fill="none"><path d="M1685.1 762.4V828.3" stroke-dasharray="1.5 3.6" stroke-width="1.6" opacity="0.5"/><path d="M1685.1 933.5V945.5" stroke-dasharray="1.5 3.6" stroke-width="1.6" opacity="0.3"/><path d="M1685.1 828.3V866.6M1681.9 828.3H1688.3M1685.1 893.5V931.5M1681.9 931.5H1688.3"/><rect x="1680" y="866.6" width="10.2" height="26.9" fill="#bdbdbd"/><path d="M1681.1 875L1689.1 883" stroke-width="0.9"/></g>
<g stroke="#2f9e6e" stroke-width="1.1" fill="none"><path d="M1700.5 769.1V861.2" stroke-dasharray="1.5 3.6" stroke-width="1.6" opacity="0.4"/><path d="M1700.5 861.2V884.9M1697.3 861.2H1703.7M1700.5 901.3V923.4M1697.3 923.4H1703.7" opacity="0.7"/><rect x="1695.4" y="884.9" width="10.2" height="16.4" fill="#addfc4"/><path d="M1695.4 894.3H1705.6" stroke-width="1.1"/><path d="M1696.5 895.6L1704.5 887.6" stroke-width="0.9"/></g>
<g stroke="#eaa027" stroke-width="1.1" fill="none"><path d="M1715.9 782.6V869" stroke-dasharray="1.5 3.6" stroke-width="1.6" opacity="0.5"/><path d="M1715.9 920.3V937.4" stroke-dasharray="1.5 3.6" stroke-width="1.6" opacity="0.3"/><path d="M1715.9 869V887.8M1712.7 869H1719.1M1715.9 899.7V918.3M1712.7 918.3H1719.1"/><rect x="1710.8" y="887.8" width="10.2" height="11.8" fill="#f9d4a1"/><path d="M1710.8 894.3H1721" stroke-width="1.1"/></g>
<g stroke="#d25560" stroke-width="1.1" fill="none"><path d="M1731.3 778.5V866.3" stroke-dasharray="1.5 3.6" stroke-width="1.6" opacity="0.4"/><path d="M1731.3 923V942.8" stroke-dasharray="1.5 3.6" stroke-width="1.6" opacity="0.3"/><path d="M1731.3 866.3V886.8M1728.1 866.3H1734.5M1731.3 901V921M1728.1 921H1734.5"/><rect x="1726.2" y="886.8" width="10.2" height="14.3" fill="#f8b2b6"/><path d="M1726.2 894.3H1736.4" stroke-width="1.1"/><path d="M1727.3 895.6L1735.3 887.6M1727.3 887.6L1735.3 895.6" stroke-width="0.9"/></g>
<g>
<path d="M1266.5 602.8H1748.7V1055.3H1266.5Z M1266.5 990H1748.7 M1266.5 1022.4H1748.7" fill="none" stroke="#111" stroke-width="1.5"/>
<path d="M1362.9 990V1022.4M1459.4 990V1022.4M1555.8 990V1022.4M1652.3 990V1022.4" stroke="#111" stroke-width="1.5" fill="none"/>
<path d="M1258.5 602.8H1266.5M1258.5 662.3H1266.5M1258.5 721.9H1266.5M1258.5 781.4H1266.5M1258.5 840.9H1266.5M1258.5 900.5H1266.5M1258.5 960H1266.5M1262 632.6H1266.5M1262 692.1H1266.5M1262 751.6H1266.5M1262 811.2H1266.5M1262 870.7H1266.5M1262 930.2H1266.5M1262 989.8H1266.5" stroke="#111" stroke-width="1.4" fill="none"/>
<text transform="translate(1253.5 610.8) scale(1 1.1)" font-size="25.9" text-anchor="end">6.0</text>
<text transform="translate(1253.5 670.3) scale(1 1.1)" font-size="25.9" text-anchor="end">5.0</text>
<text transform="translate(1253.5 729.9) scale(1 1.1)" font-size="25.9" text-anchor="end">4.0</text>
<text transform="translate(1253.5 789.4) scale(1 1.1)" font-size="25.9" text-anchor="end">3.0</text>
<text transform="translate(1253.5 848.9) scale(1 1.1)" font-size="25.9" text-anchor="end">2.0</text>
<text transform="translate(1253.5 908.5) scale(1 1.1)" font-size="25.9" text-anchor="end">1.0</text>
<text transform="translate(1253.5 968) scale(1 1.1)" font-size="25.9" text-anchor="end">0.0</text>
<text transform="translate(1314.7 1014.4) scale(1 1.03)" font-size="24.3" text-anchor="middle">Bundle1</text>
<text transform="translate(1411.2 1014.4) scale(1 1.03)" font-size="24.3" text-anchor="middle">Bundle2</text>
<text transform="translate(1507.6 1014.4) scale(1 1.03)" font-size="24.3" text-anchor="middle">Bundle3</text>
<text transform="translate(1604 1014.4) scale(1 1.03)" font-size="24.3" text-anchor="middle">Bundle4</text>
<text transform="translate(1700.5 1014.4) scale(1 1.03)" font-size="24.3" text-anchor="middle">Bundle5</text>
<text transform="translate(1507.6 1046.1) scale(1 1.05)" font-size="27.4" text-anchor="middle">Recreation Opportunities</text>
</g>
</g>
<path d="M2339.6 94.8V481" stroke="#111" stroke-width="2.2"/>
<g>
<path d="M1856.5 602.3H2340V1048H1856.5" fill="none" stroke="#333" stroke-width="1.4"/>
<path d="M1856.5 602.3V1048" fill="none" stroke="#aaa" stroke-width="0.8" opacity="0.35"/>
<rect x="1859.5" y="606" width="63.5" height="31.5" fill="#d2d2d2" stroke="#9c9c9c" stroke-width="0.9" stroke-opacity="0.75"/>
<text x="1931" y="632" font-size="28.5" text-anchor="start">1990 (25%–75%)</text>
<rect x="1859.5" y="656.8" width="63.5" height="31.5" fill="#bdbdbd" stroke="#7b4331" stroke-width="0.9" stroke-opacity="0.75"/>
<text x="1931" y="682.6" font-size="28.5" text-anchor="start">2020 (25%–75%)</text>
<rect x="1859.5" y="707.6" width="63.5" height="31.5" fill="#addfc4" stroke="#2f9e6e" stroke-width="0.9" stroke-opacity="0.75"/>
<text x="1931" y="733.2" font-size="28.5" text-anchor="start">2050-SSP126 (25%–75%)</text>
<rect x="1859.5" y="758.4" width="63.5" height="31.5" fill="#f9d4a1" stroke="#eaa027" stroke-width="0.9" stroke-opacity="0.75"/>
<text x="1931" y="783.8" font-size="28.5" text-anchor="start">2050-SSP245 (25%–75%)</text>
<rect x="1859.5" y="809.2" width="63.5" height="31.5" fill="#f8b2b6" stroke="#d25560" stroke-width="0.9" stroke-opacity="0.75"/>
<text x="1931" y="834.4" font-size="28.5" text-anchor="start">2050-SSP585 (25%–75%)</text>
<text x="1931" y="885" font-size="28.5" text-anchor="start">Range within 1.5 Inter-Quartile</text>
<text x="1931" y="935.6" font-size="28.5" text-anchor="start">Median line</text>
<text x="1931" y="986.2" font-size="28.5" text-anchor="start">Mean value</text>
<text x="1931" y="1036.8" font-size="28.5" text-anchor="start">Outliers</text>
<path d="M1891.5 859V892.5M1880 859H1903M1880 892.5H1903" stroke="#8a8a8a" stroke-width="1.3" fill="none"/>
<path d="M1873 927H1911" stroke="#8a8a8a" stroke-width="1.2" fill="none"/>
<path d="M1880 966L1903 989M1903 966L1880 989" stroke="#666" stroke-width="1.3" fill="none"/>
<path d="M1891.5 1023L1896.5 1028.5L1891.5 1034L1886.5 1028.5Z" stroke="#999" stroke-width="0.9" fill="none"/>
</g>
<g id="chords">
<text x="75.5" y="1154.5" font-size="41.8" text-anchor="start">(b)</text>
<g>
<text x="313.5" y="1177" font-size="33.8" text-anchor="middle">1990-2020</text>
<path d="M280.2 1671.8A212 212 0 0 1 108.6 1503.5Q316.7 1463 108.2 1481.8A209.3 209.3 0 0 1 211.3 1282.2Q316.7 1463 280.2 1671.8Z" fill="#a9d6ea" fill-opacity="0.6"/>
<path d="M108.4 1502.4A212 212 0 0 1 106.8 1492.5Q316.7 1463 288.3 1255.6A209.3 209.3 0 0 1 298.1 1254.5Q316.7 1463 108.4 1502.4Z" fill="#a9d6ea" fill-opacity="0.6"/>
<path d="M106.7 1491.8A212 212 0 0 1 106 1486.8Q316.7 1463 329.5 1671.9A209.3 209.3 0 0 1 323.3 1672.2Q316.7 1463 106.7 1491.8Z" fill="#a9d6ea" fill-opacity="0.6"/>
<path d="M106 1486.4A212 212 0 0 1 105.7 1483.5Q316.7 1463 298.1 1671.5A209.3 209.3 0 0 1 293.7 1671Q316.7 1463 106 1486.4Z" fill="#a9d6ea" fill-opacity="0.6"/>
<path d="M528.3 1450.3A212 212 0 0 1 489.3 1586.1Q316.7 1463 474.2 1600.9A209.3 209.3 0 0 1 342.9 1670.6Q316.7 1463 528.3 1450.3Z" fill="#b9e6ac" fill-opacity="0.6"/>
<path d="M489.3 1586.1A212 212 0 0 1 481.5 1596.4Q316.7 1463 519.8 1412.4A209.3 209.3 0 0 1 524.7 1439.7Q316.7 1463 489.3 1586.1Z" fill="#b9e6ac" fill-opacity="0.6"/>
<path d="M481 1597A212 212 0 0 1 479.3 1599Q316.7 1463 212.9 1281.3A209.3 209.3 0 0 1 215.1 1280Q316.7 1463 481 1597Z" fill="#b9e6ac" fill-opacity="0.8"/>
<path d="M479.1 1599.3A212 212 0 0 1 478.1 1600.4Q316.7 1463 301 1671.7A209.3 209.3 0 0 1 299.5 1671.6Q316.7 1463 479.1 1599.3Z" fill="#b9e6ac" fill-opacity="0.8"/>
<path d="M315.2 1251A212 212 0 0 1 444.3 1293.7Q316.7 1463 453.2 1304.3A209.3 209.3 0 0 1 519.4 1410.9Q316.7 1463 315.2 1251Z" fill="#1fb95c" fill-opacity="0.6"/>
<path d="M445 1294.2A212 212 0 0 1 454.1 1301.6Q316.7 1463 341.1 1670.9A209.3 209.3 0 0 1 330.2 1671.9Q316.7 1463 445 1294.2Z" fill="#1fb95c" fill-opacity="0.6"/>
<path d="M454.4 1301.8A212 212 0 0 1 455.2 1302.5Q316.7 1463 214.8 1280.2A209.3 209.3 0 0 1 215.8 1279.6Q316.7 1463 454.4 1301.8Z" fill="#1fb95c" fill-opacity="0.8"/>
<path d="M231 1269.1A212 212 0 0 1 262.5 1258Q316.7 1463 265 1260.2A209.3 209.3 0 0 1 287.2 1255.8Q316.7 1463 231 1269.1Z" fill="#f76e6e" fill-opacity="0.6"/>
<path d="M263.3 1257.8A212 212 0 0 1 265.8 1257.2Q316.7 1463 216.1 1279.5A209.3 209.3 0 0 1 220.3 1277.2Q316.7 1463 263.3 1257.8Z" fill="#f76e6e" fill-opacity="0.8"/>
<path d="M311.8 1674.9A212 212 0 0 1 303.6 1674.6Q316.7 1463 301.8 1671.8A209.3 209.3 0 0 1 298.8 1671.5Q316.7 1463 311.8 1674.9Z" fill="#2490c4" fill-opacity="0.8"/>
<path d="M304.6 1674.7A212 212 0 0 1 302.6 1674.5Q316.7 1463 299.2 1254.4A209.3 209.3 0 0 1 301.7 1254.2Q316.7 1463 304.6 1674.7Z" fill="#2490c4" fill-opacity="0.8"/>
<path d="M311.4 1674.9A212 212 0 0 1 306.6 1674.8Q316.7 1463 298.8 1671.5A209.3 209.3 0 0 0 300.2 1671.7Q316.7 1463 311.4 1674.9Z" fill="#2490c4" fill-opacity="0.5"/>
<path d="M265.8 1257.2Q316.7 1463 294.1 1671.1" fill="none" stroke="#ee6f6f" stroke-width="1" stroke-dasharray="5 3" opacity="0.5"/>
<path d="M267.2 1256.9Q316.7 1463 311.1 1672.2" fill="none" stroke="#ee6f6f" stroke-width="0.9" stroke-dasharray="4 3" opacity="0.4"/>
<path d="M266.5 1257Q316.7 1463 524.4 1437.3" fill="none" stroke="#f08a8a" stroke-width="0.9" stroke-dasharray="3 3" opacity="0.4"/>
<path d="M267.9 1256.7Q316.7 1463 325.4 1672.1" fill="none" stroke="#f08a8a" stroke-width="0.8" stroke-dasharray="2 3" opacity="0.3"/>
<path d="M209.3 1280.2Q316.7 1463 325.7 1672.1" fill="none" stroke="#2f9e6e" stroke-width="0.9" stroke-dasharray="2 3" opacity="0.5"/>
<path d="M105.7 1483.1Q316.7 1463 524.5 1438.1" fill="none" stroke="#8cc4e2" stroke-width="0.9" stroke-dasharray="6 4" opacity="0.4"/>
<path d="M105.6 1482.7Q316.7 1463 525.8 1454.1" fill="none" stroke="#5fa8d8" stroke-width="0.8" stroke-dasharray="2 3" opacity="0.4"/>
<path d="M455.2 1302.5Q316.7 1463 286.1 1255.9" fill="none" stroke="#2fae6e" stroke-width="0.8" stroke-dasharray="2 2.5" opacity="0.5"/>
<path d="M300.6 1674.4Q316.7 1463 210.1 1282.9" fill="none" stroke="#2a8fc0" stroke-width="0.9" stroke-dasharray="2 3" opacity="0.5"/>
<path d="M300.2 1674.4Q316.7 1463 524.2 1435.9" fill="none" stroke="#2a8fc0" stroke-width="0.8" stroke-dasharray="2 3" opacity="0.4"/>
<path d="M302.6 1674.5Q316.7 1463 299.9 1254.4" fill="none" stroke="#2a8fc0" stroke-width="1" stroke-dasharray="7 4" opacity="0.5"/>
<path d="M476.5 1602.4Q316.7 1463 285 1256.1" fill="none" stroke="#b5dea5" stroke-width="0.8" stroke-dasharray="2 3" opacity="0.5"/>
<path d="M315.1 1229.4A233.6 233.6 0 0 1 548.6 1435.2L527.5 1437.7A212.3 212.3 0 0 0 315.2 1250.7Z" fill="#1fb95c"/>
<path d="M315.1 1229.1A233.9 233.9 0 0 1 548.9 1435.1" fill="none" stroke="#111" stroke-width="1.2"/>
<path d="M549.9 1449A233.6 233.6 0 0 1 326 1696.4L325.1 1675.1A212.3 212.3 0 0 0 528.6 1450.2Z" fill="#b9e6ac"/>
<path d="M550.2 1448.9A233.9 233.9 0 0 1 326 1696.7" fill="none" stroke="#111" stroke-width="1.2"/>
<path d="M312.1 1696.6A233.6 233.6 0 0 1 290.2 1695.1L292.6 1673.9A212.3 212.3 0 0 0 312.5 1675.3Z" fill="#2490c4"/>
<path d="M312.1 1696.9A233.9 233.9 0 0 1 290.2 1695.4" fill="none" stroke="#111" stroke-width="1.2"/>
<path d="M276.5 1693.1A233.6 233.6 0 0 1 209.8 1255.3L219.6 1274.2A212.3 212.3 0 0 0 280.2 1672.1Z" fill="#a9d6ea"/>
<path d="M276.4 1693.4A233.9 233.9 0 0 1 209.7 1255" fill="none" stroke="#111" stroke-width="1.2"/>
<path d="M222.3 1249.3A233.6 233.6 0 0 1 301.2 1229.9L302.6 1251.2A212.3 212.3 0 0 0 230.9 1268.8Z" fill="#f76e6e"/>
<path d="M222.2 1249A233.9 233.9 0 0 1 301.2 1229.6" fill="none" stroke="#111" stroke-width="1.2"/>
<path d="M315.1 1229.4L315 1226.2M382.3 1238.8L383.2 1235.7M444 1267.1L445.7 1264.5M494.9 1312L497.4 1309.9M530.8 1369.6L533.8 1368.4M548.6 1435.2L551.8 1434.8M549.9 1449L553.1 1448.8M542.6 1522.6L545.7 1523.4M512.6 1590.3L515.2 1592M462.9 1645.2L464.9 1647.7M398.5 1681.8L399.7 1684.8M326 1696.4L326.1 1699.6M312.1 1696.6L312.1 1699.8M290.2 1695.1L289.9 1698.3M276.5 1693.1L275.9 1696.3M207.9 1669.7L206.4 1672.5M149.7 1626.4L147.4 1628.6M107.7 1567.3L104.8 1568.7M85.8 1498.2L82.6 1498.7M86.1 1425.7L82.9 1425.2M108.7 1356.8L105.8 1355.3M151.3 1298.1L149 1295.8M209.8 1255.3L208.3 1252.4M222.3 1249.3L221 1246.4M301.2 1229.9L301 1226.7" stroke="#222" stroke-width="0.8" fill="none"/>
<text transform="translate(463.5 1297.8) rotate(42)" y="5.6" font-size="17.5" font-weight="bold" text-anchor="middle">Bundle1</text>
<text transform="translate(481.5 1615.4) rotate(-47)" y="5.6" font-size="17.5" font-weight="bold" text-anchor="middle">Bundle2</text>
<text transform="translate(299.7 1686.5) rotate(0)" y="5.6" font-size="17.5" font-weight="bold" text-anchor="middle">Bundle3</text>
<text transform="translate(93.9 1495.5) rotate(81)" y="5.6" font-size="17.5" font-weight="bold" text-anchor="middle">Bundle4</text>
<text transform="translate(263.7 1248.6) rotate(-13)" y="5.6" font-size="17.5" font-weight="bold" text-anchor="middle">Bundle5</text>
<text transform="translate(563.4 1409.7) rotate(79)" y="8.3" font-size="24.8" text-anchor="middle">24.36%</text>
<text transform="translate(355.6 1718.1) rotate(-1)" y="8.3" font-size="24.8" text-anchor="middle">26.58%</text>
<text transform="translate(275.7 1713.3) rotate(7)" y="8.3" font-size="24.8" text-anchor="middle">1.57%</text>
<text transform="translate(185.8 1243.9) rotate(-24)" y="8.3" font-size="24.8" text-anchor="middle">41.65%</text>
<text transform="translate(297.7 1211.1) rotate(-3)" y="8.3" font-size="24.8" text-anchor="middle">5.84%</text>
</g>
<g>
<text x="903" y="1177" font-size="33.8" text-anchor="middle">2020-2050 SSP126</text>
<path d="M856.6 1669.7A212 212 0 0 1 696.3 1507.1Q903.7 1463 695.1 1480.4A209.3 209.3 0 0 1 789.5 1287.6Q903.7 1463 856.6 1669.7Z" fill="#a9d6ea" fill-opacity="0.6"/>
<path d="M696.1 1506A212 212 0 0 1 694.3 1496.2Q903.7 1463 878.9 1255.2A209.3 209.3 0 0 1 888.7 1254.2Q903.7 1463 696.1 1506Z" fill="#a9d6ea" fill-opacity="0.6"/>
<path d="M694.2 1495.4A212 212 0 0 1 692.9 1485.5Q903.7 1463 914.7 1672A209.3 209.3 0 0 1 902.2 1672.3Q903.7 1463 694.2 1495.4Z" fill="#a9d6ea" fill-opacity="0.6"/>
<path d="M692.9 1485.1A212 212 0 0 1 692.6 1482.1Q903.7 1463 874.5 1670.3A209.3 209.3 0 0 1 870.1 1669.6Q903.7 1463 692.9 1485.1Z" fill="#a9d6ea" fill-opacity="0.6"/>
<path d="M1115.5 1454.3A212 212 0 0 1 1086.4 1570.6Q903.7 1463 1071.5 1588.1A209.3 209.3 0 0 1 952.6 1666.5Q903.7 1463 1115.5 1454.3Z" fill="#b9e6ac" fill-opacity="0.6"/>
<path d="M1086.4 1570.6A212 212 0 0 1 1078.4 1583.1Q903.7 1463 1108 1417.7A209.3 209.3 0 0 1 1112.1 1443.7Q903.7 1463 1086.4 1570.6Z" fill="#b9e6ac" fill-opacity="0.6"/>
<path d="M1078 1583.7A212 212 0 0 1 1076.1 1586.4Q903.7 1463 790.4 1287A209.3 209.3 0 0 1 793.2 1285.3Q903.7 1463 1078 1583.7Z" fill="#b9e6ac" fill-opacity="0.8"/>
<path d="M1075.9 1586.7A212 212 0 0 1 1075 1587.9Q903.7 1463 877.4 1670.6A209.3 209.3 0 0 1 875.9 1670.4Q903.7 1463 1075.9 1586.7Z" fill="#b9e6ac" fill-opacity="0.8"/>
<path d="M902.2 1251A212 212 0 0 1 1018.5 1284.8Q903.7 1463 1049.9 1313.2A209.3 209.3 0 0 1 1107.6 1415.9Q903.7 1463 902.2 1251Z" fill="#1fb95c" fill-opacity="0.6"/>
<path d="M1019.8 1285.6A212 212 0 0 1 1050.7 1310.2Q903.7 1463 951.5 1666.8A209.3 209.3 0 0 1 916.1 1671.9Q903.7 1463 1019.8 1285.6Z" fill="#1fb95c" fill-opacity="0.6"/>
<path d="M1051 1310.5A212 212 0 0 1 1052.3 1311.8Q903.7 1463 792.2 1285.8A209.3 209.3 0 0 1 793.8 1284.9Q903.7 1463 1051 1310.5Z" fill="#1fb95c" fill-opacity="0.8"/>
<path d="M808.5 1273.6A212 212 0 0 1 842.8 1259.9Q903.7 1463 845.3 1262A209.3 209.3 0 0 1 877.8 1255.3Q903.7 1463 808.5 1273.6Z" fill="#f76e6e" fill-opacity="0.6"/>
<path d="M843.5 1259.7A212 212 0 0 1 846 1259Q903.7 1463 794.1 1284.7A209.3 209.3 0 0 1 798.2 1282.3Q903.7 1463 843.5 1259.7Z" fill="#f76e6e" fill-opacity="0.8"/>
<path d="M891.6 1674.7A212 212 0 0 1 881.8 1673.9Q903.7 1463 879.8 1670.9A209.3 209.3 0 0 1 875.2 1670.4Q903.7 1463 891.6 1674.7Z" fill="#2490c4" fill-opacity="0.8"/>
<path d="M881.8 1673.9Q903.7 1463 893.1 1254" fill="none" stroke="#2a8fc0" stroke-width="1.3" stroke-dasharray="9 5" opacity="0.5"/>
<path d="M891.2 1674.6A212 212 0 0 1 885.3 1674.2Q903.7 1463 876.3 1670.5A209.3 209.3 0 0 0 876.7 1670.5Q903.7 1463 891.2 1674.6Z" fill="#2490c4" fill-opacity="0.5"/>
<path d="M846 1259Q903.7 1463 870.5 1669.7" fill="none" stroke="#ee6f6f" stroke-width="1" stroke-dasharray="5 3" opacity="0.5"/>
<path d="M847.4 1258.6Q903.7 1463 891 1671.9" fill="none" stroke="#ee6f6f" stroke-width="0.9" stroke-dasharray="4 3" opacity="0.4"/>
<path d="M846.7 1258.8Q903.7 1463 1111.9 1441.3" fill="none" stroke="#f08a8a" stroke-width="0.9" stroke-dasharray="3 3" opacity="0.4"/>
<path d="M848.1 1258.4Q903.7 1463 905.2 1672.3" fill="none" stroke="#f08a8a" stroke-width="0.8" stroke-dasharray="2 3" opacity="0.3"/>
<path d="M787.4 1285.8Q903.7 1463 905.6 1672.3" fill="none" stroke="#2f9e6e" stroke-width="0.9" stroke-dasharray="2 3" opacity="0.5"/>
<path d="M692.5 1481.8Q903.7 1463 1111.9 1442" fill="none" stroke="#8cc4e2" stroke-width="0.9" stroke-dasharray="6 4" opacity="0.4"/>
<path d="M692.5 1481.4Q903.7 1463 1112.9 1458.1" fill="none" stroke="#5fa8d8" stroke-width="0.8" stroke-dasharray="2 3" opacity="0.4"/>
<path d="M1051.8 1311.3Q903.7 1463 876.7 1255.4" fill="none" stroke="#2fae6e" stroke-width="0.8" stroke-dasharray="2 2.5" opacity="0.5"/>
<path d="M878.3 1673.5Q903.7 1463 788.2 1288.4" fill="none" stroke="#2a8fc0" stroke-width="0.9" stroke-dasharray="2 3" opacity="0.5"/>
<path d="M877.8 1673.4Q903.7 1463 1111.7 1439.9" fill="none" stroke="#2a8fc0" stroke-width="0.8" stroke-dasharray="2 3" opacity="0.4"/>
<path d="M880.6 1673.7Q903.7 1463 886.9 1254.4" fill="none" stroke="#2a8fc0" stroke-width="1" stroke-dasharray="7 4" opacity="0.5"/>
<path d="M1073.9 1589.4Q903.7 1463 875.7 1255.6" fill="none" stroke="#b5dea5" stroke-width="0.8" stroke-dasharray="2 3" opacity="0.5"/>
<path d="M902.1 1229.4A233.6 233.6 0 0 1 1136.1 1439.6L1114.9 1441.7A212.3 212.3 0 0 0 902.2 1250.7Z" fill="#1fb95c"/>
<path d="M902.1 1229.1A233.9 233.9 0 0 1 1136.4 1439.6" fill="none" stroke="#111" stroke-width="1.2"/>
<path d="M1137.1 1453.4A233.6 233.6 0 0 1 905 1696.6L904.9 1675.3A212.3 212.3 0 0 0 1115.8 1454.3Z" fill="#b9e6ac"/>
<path d="M1137.4 1453.4A233.9 233.9 0 0 1 905 1696.9" fill="none" stroke="#111" stroke-width="1.2"/>
<path d="M891.2 1696.3A233.6 233.6 0 0 1 865.4 1693.4L868.9 1672.4A212.3 212.3 0 0 0 892.3 1675Z" fill="#2490c4"/>
<path d="M891.1 1696.6A233.9 233.9 0 0 1 865.4 1693.7" fill="none" stroke="#111" stroke-width="1.2"/>
<path d="M851.8 1690.8A233.6 233.6 0 0 1 786.6 1260.9L797.3 1279.3A212.3 212.3 0 0 0 856.6 1670Z" fill="#a9d6ea"/>
<path d="M851.8 1691.1A233.9 233.9 0 0 1 786.5 1260.6" fill="none" stroke="#111" stroke-width="1.2"/>
<path d="M798.8 1254.3A233.6 233.6 0 0 1 888.2 1229.9L889.6 1251.2A212.3 212.3 0 0 0 808.4 1273.3Z" fill="#f76e6e"/>
<path d="M798.7 1254A233.9 233.9 0 0 1 888.2 1229.6" fill="none" stroke="#111" stroke-width="1.2"/>
<path d="M902.1 1229.4L902 1226.2M970.2 1239.1L971.1 1236M1032.5 1268.1L1034.3 1265.4M1083.7 1314.1L1086.1 1312M1119.2 1372.9L1122.2 1371.7M1136.1 1439.6L1139.3 1439.3M1137.1 1453.4L1140.3 1453.3M1128.2 1527.6L1131.3 1528.5M1096.3 1595.2L1098.9 1597M1044.7 1649.2L1046.6 1651.8M978.7 1684.2L979.7 1687.3M905 1696.6L905 1699.8M891.2 1696.3L891 1699.5M865.4 1693.4L864.9 1696.6M851.8 1690.8L851.1 1693.9M787 1665.4L785.4 1668.2M732.6 1622L730.2 1624.2M693.3 1564.5L690.4 1565.9M672.7 1498L669.6 1498.5M672.7 1428.4L669.5 1428M693.1 1361.9L690.2 1360.5M732.3 1304.3L729.9 1302.2M786.6 1260.9L785 1258.1M798.8 1254.3L797.4 1251.4M888.2 1229.9L888 1226.7" stroke="#222" stroke-width="0.8" fill="none"/>
<text transform="translate(1051.5 1297.8) rotate(42)" y="5.6" font-size="17.5" font-weight="bold" text-anchor="middle">Bundle1</text>
<text transform="translate(1065.5 1619.4) rotate(-46)" y="5.6" font-size="17.5" font-weight="bold" text-anchor="middle">Bundle2</text>
<text transform="translate(877.7 1686.5) rotate(0)" y="5.6" font-size="17.5" font-weight="bold" text-anchor="middle">Bundle3</text>
<text transform="translate(682 1493.5) rotate(82)" y="5.6" font-size="17.5" font-weight="bold" text-anchor="middle">Bundle4</text>
<text transform="translate(845.8 1248.6) rotate(-14)" y="5.6" font-size="17.5" font-weight="bold" text-anchor="middle">Bundle5</text>
<text transform="translate(1148.2 1425.6) rotate(81)" y="8.3" font-size="24.8" text-anchor="middle">24.68%</text>
<text transform="translate(919.7 1716.1) rotate(0)" y="8.3" font-size="24.8" text-anchor="middle">26.83%</text>
<text transform="translate(841.8 1714.1) rotate(10)" y="8.3" font-size="24.8" text-anchor="middle">1.85%</text>
<text transform="translate(777.8 1248.6) rotate(-26)" y="8.3" font-size="24.8" text-anchor="middle">39.97%</text>
<text transform="translate(888.5 1214.7) rotate(-3)" y="8.3" font-size="24.8" text-anchor="middle">6.67%</text>
</g>
<g>
<text x="1487.7" y="1177" font-size="33.8" text-anchor="middle">2020-2050 SSP245</text>
<path d="M1452.7 1672.1A212 212 0 0 1 1281.6 1512.5Q1487.7 1463 1279.8 1487.3A209.3 209.3 0 0 1 1366.6 1292.3Q1487.7 1463 1452.7 1672.1Z" fill="#a9d6ea" fill-opacity="0.6"/>
<path d="M1281.3 1511.4A212 212 0 0 1 1278.2 1495.4Q1487.7 1463 1456.8 1256A209.3 209.3 0 0 1 1472.7 1254.2Q1487.7 1463 1281.3 1511.4Z" fill="#a9d6ea" fill-opacity="0.6"/>
<path d="M1278.1 1494.7A212 212 0 0 1 1277.7 1492.4Q1487.7 1463 1500.1 1671.9A209.3 209.3 0 0 1 1497.2 1672.1Q1487.7 1463 1278.1 1494.7Z" fill="#a9d6ea" fill-opacity="0.6"/>
<path d="M1277.7 1492A212 212 0 0 1 1277.3 1489.1Q1487.7 1463 1470.5 1671.6A209.3 209.3 0 0 1 1466.1 1671.2Q1487.7 1463 1277.7 1492Z" fill="#a9d6ea" fill-opacity="0.6"/>
<path d="M1699.7 1466.9A212 212 0 0 1 1666.5 1576.9Q1487.7 1463 1649.9 1595.3A209.3 209.3 0 0 1 1529.4 1668.1Q1487.7 1463 1699.7 1466.9Z" fill="#b9e6ac" fill-opacity="0.6"/>
<path d="M1666.5 1576.9A212 212 0 0 1 1657 1590.6Q1487.7 1463 1694 1427.7A209.3 209.3 0 0 1 1696.9 1455.7Q1487.7 1463 1666.5 1576.9Z" fill="#b9e6ac" fill-opacity="0.6"/>
<path d="M1656.6 1591.2A212 212 0 0 1 1653.4 1595.3Q1487.7 1463 1366 1292.7A209.3 209.3 0 0 1 1370.2 1289.8Q1487.7 1463 1656.6 1591.2Z" fill="#b9e6ac" fill-opacity="0.8"/>
<path d="M1653.2 1595.6A212 212 0 0 1 1652.2 1596.7Q1487.7 1463 1473.4 1671.8A209.3 209.3 0 0 1 1471.9 1671.7Q1487.7 1463 1653.2 1595.6Z" fill="#b9e6ac" fill-opacity="0.8"/>
<path d="M1486.2 1251A212 212 0 0 1 1612 1291.3Q1487.7 1463 1633.6 1313A209.3 209.3 0 0 1 1693.7 1425.9Q1487.7 1463 1486.2 1251Z" fill="#1fb95c" fill-opacity="0.6"/>
<path d="M1613.2 1292.1A212 212 0 0 1 1634.4 1310Q1487.7 1463 1527.6 1668.5A209.3 209.3 0 0 1 1500.5 1671.9Q1487.7 1463 1613.2 1292.1Z" fill="#1fb95c" fill-opacity="0.6"/>
<path d="M1634.7 1310.2A212 212 0 0 1 1636 1311.5Q1487.7 1463 1369.3 1290.4A209.3 209.3 0 0 1 1370.8 1289.4Q1487.7 1463 1634.7 1310.2Z" fill="#1fb95c" fill-opacity="0.8"/>
<path d="M1385.1 1277.5A212 212 0 0 1 1422.9 1261.1Q1487.7 1463 1425.5 1263.2A209.3 209.3 0 0 1 1455.7 1256.2Q1487.7 1463 1385.1 1277.5Z" fill="#f76e6e" fill-opacity="0.6"/>
<path d="M1423.6 1260.9A212 212 0 0 1 1426.1 1260.2Q1487.7 1463 1371.1 1289.2A209.3 209.3 0 0 1 1375.1 1286.6Q1487.7 1463 1423.6 1260.9Z" fill="#f76e6e" fill-opacity="0.8"/>
<path d="M1487.4 1675A212 212 0 0 1 1477.8 1674.8Q1487.7 1463 1475.6 1672A209.3 209.3 0 0 1 1471.2 1671.7Q1487.7 1463 1487.4 1675Z" fill="#2490c4" fill-opacity="0.8"/>
<path d="M1477.8 1674.8Q1487.7 1463 1477.1 1254" fill="none" stroke="#2a8fc0" stroke-width="1.3" stroke-dasharray="9 5" opacity="0.5"/>
<path d="M1487.1 1675A212 212 0 0 1 1481.2 1674.9Q1487.7 1463 1472.2 1671.7A209.3 209.3 0 0 0 1472.7 1671.8Q1487.7 1463 1487.1 1675Z" fill="#2490c4" fill-opacity="0.5"/>
<path d="M1426.1 1260.2Q1487.7 1463 1466.5 1671.2" fill="none" stroke="#ee6f6f" stroke-width="1" stroke-dasharray="5 3" opacity="0.5"/>
<path d="M1427.5 1259.7Q1487.7 1463 1486.7 1672.3" fill="none" stroke="#ee6f6f" stroke-width="0.9" stroke-dasharray="4 3" opacity="0.4"/>
<path d="M1426.8 1259.9Q1487.7 1463 1696.8 1453.7" fill="none" stroke="#f08a8a" stroke-width="0.9" stroke-dasharray="3 3" opacity="0.4"/>
<path d="M1428.2 1259.5Q1487.7 1463 1500.9 1671.9" fill="none" stroke="#f08a8a" stroke-width="0.8" stroke-dasharray="2 3" opacity="0.3"/>
<path d="M1364.5 1290.5Q1487.7 1463 1501.3 1671.9" fill="none" stroke="#2f9e6e" stroke-width="0.9" stroke-dasharray="2 3" opacity="0.5"/>
<path d="M1277.3 1488.7Q1487.7 1463 1696.8 1454.4" fill="none" stroke="#8cc4e2" stroke-width="0.9" stroke-dasharray="6 4" opacity="0.4"/>
<path d="M1277.2 1488.3Q1487.7 1463 1696.9 1470.5" fill="none" stroke="#5fa8d8" stroke-width="0.8" stroke-dasharray="2 3" opacity="0.4"/>
<path d="M1635.5 1311Q1487.7 1463 1454.6 1256.3" fill="none" stroke="#2fae6e" stroke-width="0.8" stroke-dasharray="2 2.5" opacity="0.5"/>
<path d="M1474.3 1674.6Q1487.7 1463 1365.4 1293.1" fill="none" stroke="#2a8fc0" stroke-width="0.9" stroke-dasharray="2 3" opacity="0.5"/>
<path d="M1473.9 1674.5Q1487.7 1463 1696.7 1452.3" fill="none" stroke="#2a8fc0" stroke-width="0.8" stroke-dasharray="2 3" opacity="0.4"/>
<path d="M1476.6 1674.7Q1487.7 1463 1470.9 1254.4" fill="none" stroke="#2a8fc0" stroke-width="1" stroke-dasharray="7 4" opacity="0.5"/>
<path d="M1652.2 1596.7Q1487.7 1463 1453.5 1256.5" fill="none" stroke="#b5dea5" stroke-width="0.8" stroke-dasharray="2 3" opacity="0.5"/>
<path d="M1486.1 1229.4A233.6 233.6 0 0 1 1721.1 1453.4L1699.8 1454.3A212.3 212.3 0 0 0 1486.2 1250.7Z" fill="#1fb95c"/>
<path d="M1486.1 1229.1A233.9 233.9 0 0 1 1721.4 1453.4" fill="none" stroke="#111" stroke-width="1.2"/>
<path d="M1721.3 1467.3A233.6 233.6 0 0 1 1502.1 1696.2L1500.8 1674.9A212.3 212.3 0 0 0 1700 1466.9Z" fill="#b9e6ac"/>
<path d="M1721.6 1467.3A233.9 233.9 0 0 1 1502.1 1696.5" fill="none" stroke="#111" stroke-width="1.2"/>
<path d="M1488.2 1696.6A233.6 233.6 0 0 1 1462.8 1695.3L1465.1 1674.1A212.3 212.3 0 0 0 1488.2 1675.3Z" fill="#2490c4"/>
<path d="M1488.2 1696.9A233.9 233.9 0 0 1 1462.8 1695.6" fill="none" stroke="#111" stroke-width="1.2"/>
<path d="M1449.1 1693.4A233.6 233.6 0 0 1 1362.7 1265.6L1374.1 1283.6A212.3 212.3 0 0 0 1452.6 1672.4Z" fill="#a9d6ea"/>
<path d="M1449 1693.7A233.9 233.9 0 0 1 1362.6 1265.4" fill="none" stroke="#111" stroke-width="1.2"/>
<path d="M1374.6 1258.6A233.6 233.6 0 0 1 1472.2 1229.9L1473.6 1251.2A212.3 212.3 0 0 0 1385 1277.2Z" fill="#f76e6e"/>
<path d="M1374.5 1258.3A233.9 233.9 0 0 1 1472.2 1229.6" fill="none" stroke="#111" stroke-width="1.2"/>
<path d="M1486.1 1229.4L1486 1226.2M1556.8 1239.9L1557.8 1236.8M1621.1 1271.2L1622.9 1268.6M1672.9 1320.6L1675.4 1318.6M1707.3 1383.3L1710.3 1382.2M1721.1 1453.4L1724.3 1453.3M1721.3 1467.3L1724.5 1467.4M1709.7 1535.7L1712.7 1536.7M1678.5 1597.7L1681.1 1599.6M1630.5 1647.8L1632.5 1650.4M1569.9 1681.6L1571.1 1684.6M1502.1 1696.2L1502.3 1699.4M1488.2 1696.6L1488.2 1699.8M1462.8 1695.3L1462.5 1698.5M1449.1 1693.4L1448.6 1696.5M1382.4 1671.5L1381 1674.4M1325.3 1630.9L1323.1 1633.2M1282.8 1575.1L1280 1576.7M1258.7 1509.2L1255.6 1509.9M1255.3 1439.2L1252.1 1438.9M1272.9 1371.3L1269.9 1370M1309.8 1311.6L1307.3 1309.6M1362.7 1265.6L1361 1262.9M1374.6 1258.6L1373.1 1255.8M1472.2 1229.9L1472 1226.7" stroke="#222" stroke-width="0.8" fill="none"/>
<text transform="translate(1640.3 1303.8) rotate(44)" y="5.6" font-size="17.5" font-weight="bold" text-anchor="middle">Bundle1</text>
<text transform="translate(1650.7 1619.4) rotate(-45)" y="5.6" font-size="17.5" font-weight="bold" text-anchor="middle">Bundle2</text>
<text transform="translate(1474.9 1686.5) rotate(0)" y="5.6" font-size="17.5" font-weight="bold" text-anchor="middle">Bundle3</text>
<text transform="translate(1267.9 1505.5) rotate(80)" y="5.6" font-size="17.5" font-weight="bold" text-anchor="middle">Bundle4</text>
<text transform="translate(1425.8 1248.6) rotate(-14)" y="5.6" font-size="17.5" font-weight="bold" text-anchor="middle">Bundle5</text>
<text transform="translate(1738.6 1448.8) rotate(84)" y="8.3" font-size="24.8" text-anchor="middle">25.67%</text>
<text transform="translate(1509.7 1715.3) rotate(0)" y="8.3" font-size="24.8" text-anchor="middle">24.9%</text>
<text transform="translate(1445.7 1713.3) rotate(8)" y="8.3" font-size="24.8" text-anchor="middle">1.82%</text>
<text transform="translate(1354.6 1246.6) rotate(-28)" y="8.3" font-size="24.8" text-anchor="middle">40.27%</text>
<text transform="translate(1471.7 1211.9) rotate(-3)" y="8.3" font-size="24.8" text-anchor="middle">7.33%</text>
</g>
<g>
<text x="2077" y="1173" font-size="33.8" text-anchor="middle">2020-2050 SSP585</text>
<path d="M2049.2 1673.1A212 212 0 0 1 1870.3 1508.9Q2077.3 1463 1869.3 1486.2A209.3 209.3 0 0 1 1957.5 1291.4Q2077.3 1463 2049.2 1673.1Z" fill="#a9d6ea" fill-opacity="0.6"/>
<path d="M1870.1 1507.8A212 212 0 0 1 1867.9 1495.8Q2077.3 1463 2050.3 1255.4A209.3 209.3 0 0 1 2062.3 1254.2Q2077.3 1463 1870.1 1507.8Z" fill="#a9d6ea" fill-opacity="0.6"/>
<path d="M1867.7 1495.1A212 212 0 0 1 1867.2 1491.3Q2077.3 1463 2099.2 1671.2A209.3 209.3 0 0 1 2094.4 1671.6Q2077.3 1463 1867.7 1495.1Z" fill="#a9d6ea" fill-opacity="0.6"/>
<path d="M1867.1 1490.9A212 212 0 0 1 1866.8 1488Q2077.3 1463 2067 1672A209.3 209.3 0 0 1 2062.7 1671.8Q2077.3 1463 1867.1 1490.9Z" fill="#a9d6ea" fill-opacity="0.6"/>
<path d="M2288.2 1441.7A212 212 0 0 1 2265.3 1560.9Q2077.3 1463 2251.4 1579.1A209.3 209.3 0 0 1 2146.5 1660.5Q2077.3 1463 2288.2 1441.7Z" fill="#b9e6ac" fill-opacity="0.6"/>
<path d="M2265.3 1560.9A212 212 0 0 1 2258.1 1573.8Q2077.3 1463 2281.6 1417.7A209.3 209.3 0 0 1 2284.1 1431Q2077.3 1463 2265.3 1560.9Z" fill="#b9e6ac" fill-opacity="0.6"/>
<path d="M2257.7 1574.4A212 212 0 0 1 2256.7 1576Q2077.3 1463 1959.6 1290A209.3 209.3 0 0 1 1961.1 1288.9Q2077.3 1463 2257.7 1574.4Z" fill="#b9e6ac" fill-opacity="0.8"/>
<path d="M2256.5 1576.3A212 212 0 0 1 2255.7 1577.5Q2077.3 1463 2070 1672.2A209.3 209.3 0 0 1 2068.5 1672.1Q2077.3 1463 2256.5 1576.3Z" fill="#b9e6ac" fill-opacity="0.8"/>
<path d="M2075.8 1251A212 212 0 0 1 2188.1 1282.2Q2077.3 1463 2226.1 1315.8A209.3 209.3 0 0 1 2281.2 1415.6Q2077.3 1463 2075.8 1251Z" fill="#1fb95c" fill-opacity="0.6"/>
<path d="M2189.3 1283A212 212 0 0 1 2226.9 1312.8Q2077.3 1463 2144.8 1661.1A209.3 209.3 0 0 1 2099.9 1671.1Q2077.3 1463 2189.3 1283Z" fill="#1fb95c" fill-opacity="0.6"/>
<path d="M2227.2 1313.1A212 212 0 0 1 2229.3 1315.2Q2077.3 1463 1959.3 1290.2A209.3 209.3 0 0 1 1961.7 1288.5Q2077.3 1463 2227.2 1313.1Z" fill="#1fb95c" fill-opacity="0.8"/>
<path d="M1976 1276.7A212 212 0 0 1 2011.8 1261.4Q2077.3 1463 2014.4 1263.4A209.3 209.3 0 0 1 2049.3 1255.6Q2077.3 1463 1976 1276.7Z" fill="#f76e6e" fill-opacity="0.6"/>
<path d="M2012.5 1261.1A212 212 0 0 1 2015 1260.4Q2077.3 1463 1962 1288.3A209.3 209.3 0 0 1 1966 1285.8Q2077.3 1463 2012.5 1261.1Z" fill="#f76e6e" fill-opacity="0.8"/>
<path d="M2084.6 1674.9A212 212 0 0 1 2074.7 1675Q2077.3 1463 2072.4 1672.2A209.3 209.3 0 0 1 2067.8 1672.1Q2077.3 1463 2084.6 1674.9Z" fill="#2490c4" fill-opacity="0.8"/>
<path d="M2074.7 1675Q2077.3 1463 2066.7 1254" fill="none" stroke="#2a8fc0" stroke-width="1.3" stroke-dasharray="9 5" opacity="0.5"/>
<path d="M2084.2 1674.9A212 212 0 0 1 2078.2 1675Q2077.3 1463 2068.9 1672.1A209.3 209.3 0 0 0 2069.2 1672.1Q2077.3 1463 2084.2 1674.9Z" fill="#2490c4" fill-opacity="0.5"/>
<path d="M2015 1260.4Q2077.3 1463 2063 1671.8" fill="none" stroke="#ee6f6f" stroke-width="1" stroke-dasharray="5 3" opacity="0.5"/>
<path d="M2016.4 1259.9Q2077.3 1463 2083.8 1672.2" fill="none" stroke="#ee6f6f" stroke-width="0.9" stroke-dasharray="4 3" opacity="0.4"/>
<path d="M2015.7 1260.2Q2077.3 1463 2283.8 1428.9" fill="none" stroke="#f08a8a" stroke-width="0.9" stroke-dasharray="3 3" opacity="0.4"/>
<path d="M2017.1 1259.7Q2077.3 1463 2098 1671.3" fill="none" stroke="#f08a8a" stroke-width="0.8" stroke-dasharray="2 3" opacity="0.3"/>
<path d="M1955.3 1289.6Q2077.3 1463 2098.3 1671.2" fill="none" stroke="#2f9e6e" stroke-width="0.9" stroke-dasharray="2 3" opacity="0.5"/>
<path d="M1866.7 1487.6Q2077.3 1463 2283.9 1429.6" fill="none" stroke="#8cc4e2" stroke-width="0.9" stroke-dasharray="6 4" opacity="0.4"/>
<path d="M1866.7 1487.2Q2077.3 1463 2285.9 1445.6" fill="none" stroke="#5fa8d8" stroke-width="0.8" stroke-dasharray="2 3" opacity="0.4"/>
<path d="M2228 1313.9Q2077.3 1463 2048.2 1255.7" fill="none" stroke="#2fae6e" stroke-width="0.8" stroke-dasharray="2 2.5" opacity="0.5"/>
<path d="M2071.2 1674.9Q2077.3 1463 1956.3 1292.2" fill="none" stroke="#2a8fc0" stroke-width="0.9" stroke-dasharray="2 3" opacity="0.5"/>
<path d="M2070.7 1674.9Q2077.3 1463 2283.6 1427.5" fill="none" stroke="#2a8fc0" stroke-width="0.8" stroke-dasharray="2 3" opacity="0.4"/>
<path d="M2073.5 1675Q2077.3 1463 2060.5 1254.4" fill="none" stroke="#2a8fc0" stroke-width="1" stroke-dasharray="7 4" opacity="0.5"/>
<path d="M2253.9 1580.3Q2077.3 1463 2047.1 1255.9" fill="none" stroke="#b5dea5" stroke-width="0.8" stroke-dasharray="2 3" opacity="0.5"/>
<path d="M2075.7 1229.4A233.6 233.6 0 0 1 2307.9 1425.7L2286.9 1429.1A212.3 212.3 0 0 0 2075.8 1250.7Z" fill="#1fb95c"/>
<path d="M2075.7 1229.1A233.9 233.9 0 0 1 2308.2 1425.7" fill="none" stroke="#111" stroke-width="1.2"/>
<path d="M2309.7 1439.5A233.6 233.6 0 0 1 2100 1695.5L2097.9 1674.3A212.3 212.3 0 0 0 2288.5 1441.6Z" fill="#b9e6ac"/>
<path d="M2310 1439.5A233.9 233.9 0 0 1 2100 1695.8" fill="none" stroke="#111" stroke-width="1.2"/>
<path d="M2086.1 1696.4A233.6 233.6 0 0 1 2060.1 1696L2061.7 1674.7A212.3 212.3 0 0 0 2085.3 1675.1Z" fill="#2490c4"/>
<path d="M2086.2 1696.7A233.9 233.9 0 0 1 2060.1 1696.3" fill="none" stroke="#111" stroke-width="1.2"/>
<path d="M2046.4 1694.5A233.6 233.6 0 0 1 1953.8 1264.7L1965 1282.8A212.3 212.3 0 0 0 2049.2 1673.4Z" fill="#a9d6ea"/>
<path d="M2046.3 1694.8A233.9 233.9 0 0 1 1953.6 1264.5" fill="none" stroke="#111" stroke-width="1.2"/>
<path d="M1965.7 1257.8A233.6 233.6 0 0 1 2061.8 1229.9L2063.2 1251.2A212.3 212.3 0 0 0 1975.9 1276.5Z" fill="#f76e6e"/>
<path d="M1965.6 1257.5A233.9 233.9 0 0 1 2061.8 1229.6" fill="none" stroke="#111" stroke-width="1.2"/>
<path d="M2075.7 1229.4L2075.6 1226.2M2141.1 1238.3L2142 1235.2M2201.4 1265.1L2203.1 1262.4M2251.8 1307.7L2254.2 1305.6M2288.3 1362.7L2291.2 1361.3M2307.9 1425.7L2311.1 1425.2M2309.7 1439.5L2312.9 1439.2M2305.6 1512.6L2308.7 1513.3M2279 1580.9L2281.7 1582.5M2232.6 1637.5L2234.7 1639.9M2170.9 1677L2172.1 1680M2100 1695.5L2100.3 1698.7M2086.1 1696.4L2086.3 1699.6M2060.1 1696L2059.9 1699.2M2046.4 1694.5L2045.9 1697.7M1978 1674.4L1976.6 1677.3M1918.8 1634.6L1916.6 1637M1874.4 1578.8L1871.6 1580.4M1848.9 1512.2L1845.8 1512.9M1844.7 1441L1841.6 1440.7M1862.2 1371.9L1859.3 1370.6M1899.7 1311.3L1897.3 1309.2M1953.8 1264.7L1952.1 1262M1965.7 1257.8L1964.2 1255M2061.8 1229.9L2061.6 1226.7" stroke="#222" stroke-width="0.8" fill="none"/>
<text transform="translate(2221.5 1293.8) rotate(42)" y="5.6" font-size="17.5" font-weight="bold" text-anchor="middle">Bundle1</text>
<text transform="translate(2251.5 1605.4) rotate(-55)" y="5.6" font-size="17.5" font-weight="bold" text-anchor="middle">Bundle2</text>
<text transform="translate(2072.9 1686.5) rotate(0)" y="5.6" font-size="17.5" font-weight="bold" text-anchor="middle">Bundle3</text>
<text transform="translate(1859.1 1509.5) rotate(78)" y="5.6" font-size="17.5" font-weight="bold" text-anchor="middle">Bundle4</text>
<text transform="translate(2016.5 1249.8) rotate(-13)" y="5.6" font-size="17.5" font-weight="bold" text-anchor="middle">Bundle5</text>
<text transform="translate(2325.4 1426.8) rotate(77)" y="8.3" font-size="24.8" text-anchor="middle">23.68%</text>
<text transform="translate(2115.6 1714.1) rotate(0)" y="8.3" font-size="24.8" text-anchor="middle">26.3%</text>
<text transform="translate(2047.7 1714.1) rotate(5)" y="8.3" font-size="24.8" text-anchor="middle">1.86%</text>
<text transform="translate(1947.8 1247.8) rotate(-27)" y="8.3" font-size="24.8" text-anchor="middle">40.95%</text>
<text transform="translate(2059.7 1213.9) rotate(-3)" y="8.3" font-size="24.8" text-anchor="middle">7.21%</text>
</g>
</g>
<g id="watermark">
<rect x="1477.7" y="1576.8" width="899.8" height="175.2" fill="#44946e" fill-opacity="0.6"/>
<g fill="#fff" opacity="0.9">
<circle cx="1583.1" cy="1664.7" r="74.7" fill="none" stroke="#fff" stroke-width="1.5"/>
<circle cx="1583.1" cy="1664.7" r="53.8" fill="none" stroke="#fff" stroke-width="1.3"/>
<path d="M1582.9 1618.3L1605.4 1638.4L1605.4 1648.2L1582.9 1631.5L1560.5 1648.2L1560.5 1638.4ZM1582.9 1637.9L1612.8 1660.9L1612.8 1671.2L1582.9 1651.1L1553.6 1671.2L1553.6 1660.9ZM1582.9 1657.4L1615.7 1680.4L1622 1680.4L1626.6 1688.7L1595 1688.5L1589.3 1691.7L1577.8 1691.7L1572 1688.5L1539.2 1689L1543.8 1680.4L1550.2 1680.4ZM1582.9 1670.1L1572 1678.1L1582.9 1683.3L1593.9 1678.1Z" fill-rule="evenodd"/>
<text transform="translate(1532.9 1632.7) rotate(-57.5)" font-size="12.5" font-weight="900" text-anchor="middle" style="font-family:'Liberation Serif','Noto Serif CJK SC',serif">北</text>
<text transform="translate(1549.4 1615.7) rotate(-34.5)" font-size="12.5" font-weight="900" text-anchor="middle" style="font-family:'Liberation Serif','Noto Serif CJK SC',serif">京</text>
<text transform="translate(1571.2 1606.4) rotate(-11.5)" font-size="12.5" font-weight="900" text-anchor="middle" style="font-family:'Liberation Serif','Noto Serif CJK SC',serif">林</text>
<text transform="translate(1595 1606.4) rotate(11.5)" font-size="12.5" font-weight="900" text-anchor="middle" style="font-family:'Liberation Serif','Noto Serif CJK SC',serif">业</text>
<text transform="translate(1616.8 1615.7) rotate(34.5)" font-size="12.5" font-weight="900" text-anchor="middle" style="font-family:'Liberation Serif','Noto Serif CJK SC',serif">大</text>
<text transform="translate(1633.3 1632.7) rotate(57.5)" font-size="12.5" font-weight="900" text-anchor="middle" style="font-family:'Liberation Serif','Noto Serif CJK SC',serif">学</text>
<text transform="translate(1512.3 1656.1) rotate(96.9)" font-size="12" font-weight="bold" text-anchor="middle" style="font-family:'Liberation Sans',sans-serif">B</text>
<text transform="translate(1511.8 1667) rotate(88.1)" font-size="12" font-weight="bold" text-anchor="middle" style="font-family:'Liberation Sans',sans-serif">E</text>
<text transform="translate(1512.5 1674.4) rotate(82.2)" font-size="12" font-weight="bold" text-anchor="middle" style="font-family:'Liberation Sans',sans-serif">I</text>
<text transform="translate(1513.7 1680.9) rotate(76.9)" font-size="12" font-weight="bold" text-anchor="middle" style="font-family:'Liberation Sans',sans-serif">J</text>
<text transform="translate(1515.4 1687.2) rotate(71.6)" font-size="12" font-weight="bold" text-anchor="middle" style="font-family:'Liberation Sans',sans-serif">I</text>
<text transform="translate(1518.3 1694.5) rotate(65.3)" font-size="12" font-weight="bold" text-anchor="middle" style="font-family:'Liberation Sans',sans-serif">N</text>
<text transform="translate(1524.1 1704.8) rotate(55.8)" font-size="12" font-weight="bold" text-anchor="middle" style="font-family:'Liberation Sans',sans-serif">G</text>
<text transform="translate(1534.3 1716.7) rotate(43.2)" font-size="12" font-weight="bold" text-anchor="middle" style="font-family:'Liberation Sans',sans-serif">F</text>
<text transform="translate(1542.8 1723.5) rotate(34.4)" font-size="12" font-weight="bold" text-anchor="middle" style="font-family:'Liberation Sans',sans-serif">O</text>
<text transform="translate(1553 1729.3) rotate(25)" font-size="12" font-weight="bold" text-anchor="middle" style="font-family:'Liberation Sans',sans-serif">R</text>
<text transform="translate(1563.2 1733.2) rotate(16.2)" font-size="12" font-weight="bold" text-anchor="middle" style="font-family:'Liberation Sans',sans-serif">E</text>
<text transform="translate(1573.5 1735.4) rotate(7.7)" font-size="12" font-weight="bold" text-anchor="middle" style="font-family:'Liberation Sans',sans-serif">S</text>
<text transform="translate(1583.5 1736) rotate(-0.4)" font-size="12" font-weight="bold" text-anchor="middle" style="font-family:'Liberation Sans',sans-serif">T</text>
<text transform="translate(1594 1735.2) rotate(-8.8)" font-size="12" font-weight="bold" text-anchor="middle" style="font-family:'Liberation Sans',sans-serif">R</text>
<text transform="translate(1604.6 1732.7) rotate(-17.6)" font-size="12" font-weight="bold" text-anchor="middle" style="font-family:'Liberation Sans',sans-serif">Y</text>
<text transform="translate(1618.9 1726.4) rotate(-30.2)" font-size="12" font-weight="bold" text-anchor="middle" style="font-family:'Liberation Sans',sans-serif">U</text>
<text transform="translate(1628.2 1719.9) rotate(-39.3)" font-size="12" font-weight="bold" text-anchor="middle" style="font-family:'Liberation Sans',sans-serif">N</text>
<text transform="translate(1634.1 1714.6) rotate(-45.6)" font-size="12" font-weight="bold" text-anchor="middle" style="font-family:'Liberation Sans',sans-serif">I</text>
<text transform="translate(1639 1709) rotate(-51.6)" font-size="12" font-weight="bold" text-anchor="middle" style="font-family:'Liberation Sans',sans-serif">V</text>
<text transform="translate(1644.9 1700.3) rotate(-60)" font-size="12" font-weight="bold" text-anchor="middle" style="font-family:'Liberation Sans',sans-serif">E</text>
<text transform="translate(1649.6 1690.5) rotate(-68.8)" font-size="12" font-weight="bold" text-anchor="middle" style="font-family:'Liberation Sans',sans-serif">R</text>
<text transform="translate(1652.7 1680) rotate(-77.6)" font-size="12" font-weight="bold" text-anchor="middle" style="font-family:'Liberation Sans',sans-serif">S</text>
<text transform="translate(1654 1672.7) rotate(-83.6)" font-size="12" font-weight="bold" text-anchor="middle" style="font-family:'Liberation Sans',sans-serif">I</text>
<text transform="translate(1654.4 1665.7) rotate(-89.2)" font-size="12" font-weight="bold" text-anchor="middle" style="font-family:'Liberation Sans',sans-serif">T</text>
<text transform="translate(1653.8 1655.7) rotate(-97.3)" font-size="12" font-weight="bold" text-anchor="middle" style="font-family:'Liberation Sans',sans-serif">Y</text>
<text x="1583.7" y="1705.4" font-size="10.2" font-weight="bold" text-anchor="middle" style="font-family:'Liberation Sans',sans-serif" letter-spacing="0.6">1952</text>
<text transform="translate(1674 1690) scale(0.8 1) skewX(-8)" font-size="92" font-weight="900" textLength="588" lengthAdjust="spacing" style="font-family:'Liberation Serif','Noto Serif CJK SC',serif">北京林业大学</text>
<text x="1695" y="1728.8" font-size="22.5" textLength="427" lengthAdjust="spacingAndGlyphs" style="font-family:'Liberation Sans',sans-serif" font-weight="bold">BEIJING FORESTRY UNIVERSITY</text>
<rect x="2166.3" y="1590.4" width="2.6" height="142.6"/>
<text x="2197" y="1655" font-size="71" textLength="141" lengthAdjust="spacingAndGlyphs" style="font-family:'Liberation Sans','Noto Sans CJK SC',sans-serif">新闻</text>
<text x="2197.5" y="1723.3" font-size="61" textLength="155" lengthAdjust="spacingAndGlyphs" style="font-family:'Liberation Sans',sans-serif">NEWS</text>
</g>
</g>
</svg>
</body></html>
